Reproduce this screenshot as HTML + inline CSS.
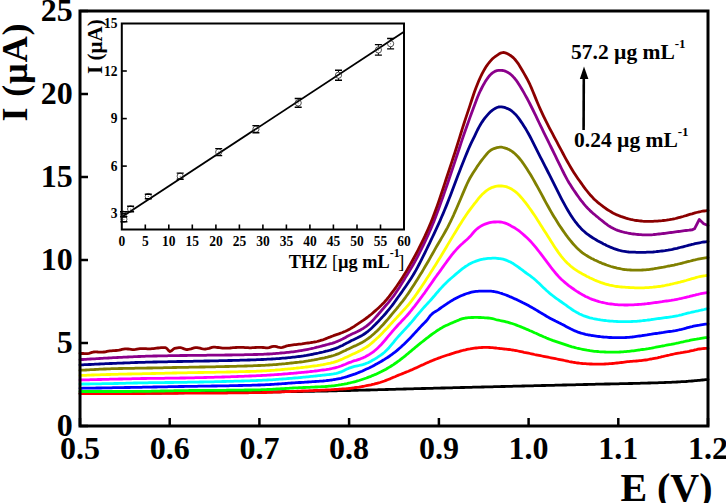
<!DOCTYPE html>
<html><head><meta charset="utf-8"><style>
html,body{margin:0;padding:0;background:#fff;}
svg{display:block;}
text{font-family:"Liberation Serif",serif;font-weight:bold;}
</style></head><body>
<svg width="726" height="503" viewBox="0 0 726 503" xmlns="http://www.w3.org/2000/svg">
<rect width="726" height="503" fill="#fff"/>
<g fill="none" stroke-width="2.8" stroke-linejoin="round" stroke-linecap="round">
<path d="M80.0 393.6 L81.5 393.6 L83.0 393.6 L84.5 393.6 L86.0 393.6 L87.5 393.5 L89.0 393.5 L90.5 393.5 L92.0 393.5 L93.5 393.5 L95.0 393.5 L96.5 393.5 L98.0 393.5 L99.5 393.5 L101.0 393.4 L102.5 393.4 L104.0 393.4 L105.5 393.4 L107.0 393.4 L108.5 393.4 L110.0 393.4 L111.5 393.4 L113.0 393.4 L114.5 393.3 L116.0 393.3 L117.5 393.3 L119.0 393.3 L120.5 393.3 L122.0 393.3 L123.5 393.3 L125.0 393.3 L126.5 393.3 L128.0 393.2 L129.5 393.2 L131.0 393.2 L132.5 393.2 L134.0 393.2 L135.5 393.2 L137.0 393.2 L138.5 393.2 L140.0 393.1 L141.5 393.1 L143.0 393.1 L144.5 393.1 L146.0 393.1 L147.5 393.1 L149.0 393.1 L150.5 393.1 L152.0 393.0 L153.5 393.0 L155.0 393.0 L156.5 393.0 L158.0 393.0 L159.5 393.0 L161.0 393.0 L162.5 392.9 L164.0 392.9 L165.5 392.9 L167.0 392.9 L168.5 392.9 L170.0 392.9 L171.5 392.9 L173.0 392.9 L174.5 392.8 L176.0 392.8 L177.5 392.8 L179.0 392.8 L180.5 392.8 L182.0 392.8 L183.5 392.8 L185.0 392.7 L186.5 392.7 L188.0 392.7 L189.5 392.7 L191.0 392.7 L192.5 392.7 L194.0 392.7 L195.5 392.6 L197.0 392.6 L198.5 392.6 L200.0 392.6 L201.5 392.6 L203.0 392.6 L204.5 392.6 L206.0 392.5 L207.5 392.5 L209.0 392.5 L210.5 392.5 L212.0 392.5 L213.5 392.5 L215.0 392.5 L216.5 392.4 L218.0 392.4 L219.5 392.4 L221.0 392.4 L222.5 392.4 L224.0 392.4 L225.5 392.4 L227.0 392.3 L228.5 392.3 L230.0 392.3 L231.5 392.3 L233.0 392.3 L234.5 392.3 L236.0 392.3 L237.5 392.2 L239.0 392.2 L240.5 392.2 L242.0 392.2 L243.5 392.2 L245.0 392.2 L246.5 392.2 L248.0 392.1 L249.5 392.1 L251.0 392.1 L252.5 392.1 L254.0 392.1 L255.5 392.1 L257.0 392.0 L258.5 392.0 L260.0 392.0 L261.5 392.0 L263.0 392.0 L264.5 392.0 L266.0 391.9 L267.5 391.9 L269.0 391.9 L270.5 391.9 L272.0 391.9 L273.5 391.9 L275.0 391.8 L276.5 391.8 L278.0 391.8 L279.5 391.8 L281.0 391.8 L282.5 391.7 L284.0 391.7 L285.5 391.7 L287.0 391.7 L288.5 391.7 L290.0 391.6 L291.5 391.6 L293.0 391.6 L294.5 391.6 L296.0 391.6 L297.5 391.5 L299.0 391.5 L300.5 391.5 L302.0 391.5 L303.5 391.4 L305.0 391.4 L306.5 391.4 L308.0 391.4 L309.5 391.3 L311.0 391.3 L312.5 391.3 L314.0 391.3 L315.5 391.2 L317.0 391.2 L318.5 391.2 L320.0 391.1 L321.5 391.1 L323.0 391.1 L324.5 391.0 L326.0 391.0 L327.5 391.0 L329.0 390.9 L330.5 390.9 L332.0 390.9 L333.5 390.8 L335.0 390.8 L336.5 390.8 L338.0 390.7 L339.5 390.7 L341.0 390.7 L342.5 390.6 L344.0 390.6 L345.5 390.6 L347.0 390.5 L348.5 390.5 L350.0 390.5 L351.5 390.4 L353.0 390.4 L354.5 390.4 L356.0 390.3 L357.5 390.3 L359.0 390.2 L360.5 390.2 L362.0 390.2 L363.5 390.1 L365.0 390.1 L366.5 390.0 L368.0 390.0 L369.5 390.0 L371.0 389.9 L372.5 389.9 L374.0 389.8 L375.5 389.8 L377.0 389.8 L378.5 389.7 L380.0 389.7 L381.5 389.6 L383.0 389.6 L384.5 389.6 L386.0 389.5 L387.5 389.5 L389.0 389.4 L390.5 389.4 L392.0 389.4 L393.5 389.3 L395.0 389.3 L396.5 389.2 L398.0 389.2 L399.5 389.1 L401.0 389.1 L402.5 389.1 L404.0 389.0 L405.5 389.0 L407.0 388.9 L408.5 388.9 L410.0 388.9 L411.5 388.8 L413.0 388.8 L414.5 388.7 L416.0 388.7 L417.5 388.7 L419.0 388.6 L420.5 388.6 L422.0 388.5 L423.5 388.5 L425.0 388.5 L426.5 388.4 L428.0 388.4 L429.5 388.4 L431.0 388.3 L432.5 388.3 L434.0 388.2 L435.5 388.2 L437.0 388.2 L438.5 388.1 L440.0 388.1 L441.5 388.0 L443.0 388.0 L444.5 388.0 L446.0 387.9 L447.5 387.9 L449.0 387.9 L450.5 387.8 L452.0 387.8 L453.5 387.7 L455.0 387.7 L456.5 387.7 L458.0 387.6 L459.5 387.6 L461.0 387.5 L462.5 387.5 L464.0 387.5 L465.5 387.4 L467.0 387.4 L468.5 387.4 L470.0 387.3 L471.5 387.3 L473.0 387.2 L474.5 387.2 L476.0 387.2 L477.5 387.1 L479.0 387.1 L480.5 387.1 L482.0 387.0 L483.5 387.0 L485.0 386.9 L486.5 386.9 L488.0 386.9 L489.5 386.8 L491.0 386.8 L492.5 386.8 L494.0 386.7 L495.5 386.7 L497.0 386.6 L498.5 386.6 L500.0 386.6 L501.5 386.5 L503.0 386.5 L504.5 386.5 L506.0 386.4 L507.5 386.4 L509.0 386.3 L510.5 386.3 L512.0 386.3 L513.5 386.2 L515.0 386.2 L516.5 386.2 L518.0 386.1 L519.5 386.1 L521.0 386.1 L522.5 386.0 L524.0 386.0 L525.5 385.9 L527.0 385.9 L528.5 385.9 L530.0 385.8 L531.5 385.8 L533.0 385.8 L534.5 385.7 L536.0 385.7 L537.5 385.7 L539.0 385.6 L540.5 385.6 L542.0 385.5 L543.5 385.5 L545.0 385.5 L546.5 385.4 L548.0 385.4 L549.5 385.4 L551.0 385.3 L552.5 385.3 L554.0 385.3 L555.5 385.2 L557.0 385.2 L558.5 385.2 L560.0 385.1 L561.5 385.1 L563.0 385.0 L564.5 385.0 L566.0 385.0 L567.5 384.9 L569.0 384.9 L570.5 384.9 L572.0 384.8 L573.5 384.8 L575.0 384.8 L576.5 384.7 L578.0 384.7 L579.5 384.6 L581.0 384.6 L582.5 384.6 L584.0 384.5 L585.5 384.5 L587.0 384.5 L588.5 384.4 L590.0 384.4 L591.5 384.4 L593.0 384.3 L594.5 384.3 L596.0 384.2 L597.5 384.2 L599.0 384.2 L600.5 384.1 L602.0 384.1 L603.5 384.1 L605.0 384.0 L606.5 384.0 L608.0 384.0 L609.5 384.0 L611.0 383.9 L612.5 383.9 L614.0 383.9 L615.5 383.8 L617.0 383.8 L618.5 383.8 L620.0 383.7 L621.5 383.7 L623.0 383.7 L624.5 383.6 L626.0 383.6 L627.5 383.6 L629.0 383.5 L630.5 383.5 L632.0 383.5 L633.5 383.4 L635.0 383.4 L636.5 383.3 L638.0 383.3 L639.5 383.3 L641.0 383.2 L642.5 383.2 L644.0 383.1 L645.5 383.1 L647.0 383.1 L648.5 383.0 L650.0 383.0 L651.5 382.9 L653.0 382.9 L654.5 382.8 L656.0 382.8 L657.5 382.8 L659.0 382.7 L660.5 382.7 L662.0 382.6 L663.5 382.6 L665.0 382.5 L666.5 382.4 L668.0 382.4 L669.5 382.3 L671.0 382.3 L672.5 382.2 L674.0 382.1 L675.5 382.1 L677.0 382.0 L678.5 381.9 L680.0 381.8 L681.5 381.7 L683.0 381.6 L684.5 381.6 L686.0 381.5 L687.5 381.3 L689.0 381.2 L690.5 381.1 L692.0 381.0 L693.5 380.9 L695.0 380.7 L696.5 380.6 L698.0 380.4 L699.5 380.3 L701.0 380.1 L702.5 380.0 L704.0 379.9 L705.5 379.7 L707.0 379.6 L708.0 379.5" stroke="#000000"/>
<path d="M80.0 393.7 L81.5 393.7 L83.0 393.7 L84.5 393.7 L86.0 393.7 L87.5 393.7 L89.0 393.7 L90.5 393.7 L92.0 393.7 L93.5 393.7 L95.0 393.7 L96.5 393.7 L98.0 393.7 L99.5 393.7 L101.0 393.7 L102.5 393.7 L104.0 393.7 L105.5 393.7 L107.0 393.7 L108.5 393.7 L110.0 393.7 L111.5 393.7 L113.0 393.7 L114.5 393.7 L116.0 393.7 L117.5 393.7 L119.0 393.7 L120.5 393.7 L122.0 393.7 L123.5 393.7 L125.0 393.7 L126.5 393.6 L128.0 393.6 L129.5 393.6 L131.0 393.6 L132.5 393.6 L134.0 393.6 L135.5 393.5 L137.0 393.5 L138.5 393.5 L140.0 393.5 L141.5 393.5 L143.0 393.5 L144.5 393.5 L146.0 393.4 L147.5 393.4 L149.0 393.4 L150.5 393.4 L152.0 393.4 L153.5 393.4 L155.0 393.4 L156.5 393.4 L158.0 393.4 L159.5 393.4 L161.0 393.3 L162.5 393.3 L164.0 393.3 L165.5 393.3 L167.0 393.3 L168.5 393.3 L170.0 393.3 L171.5 393.3 L173.0 393.3 L174.5 393.3 L176.0 393.3 L177.5 393.3 L179.0 393.2 L180.5 393.2 L182.0 393.2 L183.5 393.2 L185.0 393.2 L186.5 393.2 L188.0 393.2 L189.5 393.2 L191.0 393.2 L192.5 393.2 L194.0 393.2 L195.5 393.2 L197.0 393.2 L198.5 393.1 L200.0 393.1 L201.5 393.1 L203.0 393.1 L204.5 393.1 L206.0 393.1 L207.5 393.1 L209.0 393.1 L210.5 393.1 L212.0 393.1 L213.5 393.1 L215.0 393.0 L216.5 393.0 L218.0 393.0 L219.5 393.0 L221.0 393.0 L222.5 393.0 L224.0 393.0 L225.5 393.0 L227.0 393.0 L228.5 392.9 L230.0 392.9 L231.5 392.9 L233.0 392.9 L234.5 392.9 L236.0 392.9 L237.5 392.9 L239.0 392.8 L240.5 392.8 L242.0 392.8 L243.5 392.8 L245.0 392.8 L246.5 392.8 L248.0 392.8 L249.5 392.7 L251.0 392.7 L252.5 392.7 L254.0 392.7 L255.5 392.7 L257.0 392.6 L258.5 392.6 L260.0 392.6 L261.5 392.6 L263.0 392.5 L264.5 392.5 L266.0 392.5 L267.5 392.4 L269.0 392.4 L270.5 392.3 L272.0 392.3 L273.5 392.2 L275.0 392.1 L276.5 392.1 L278.0 392.0 L279.5 392.0 L281.0 391.9 L282.5 391.8 L284.0 391.8 L285.5 391.7 L287.0 391.6 L288.5 391.6 L290.0 391.5 L291.5 391.4 L293.0 391.4 L294.5 391.3 L296.0 391.3 L297.5 391.2 L299.0 391.1 L300.5 391.1 L302.0 391.0 L303.5 391.0 L305.0 390.9 L306.5 390.8 L308.0 390.8 L309.5 390.7 L311.0 390.6 L312.5 390.6 L314.0 390.5 L315.5 390.5 L317.0 390.4 L318.5 390.3 L320.0 390.3 L321.5 390.2 L323.0 390.1 L324.5 390.1 L326.0 390.0 L327.5 389.9 L329.0 389.8 L330.5 389.8 L332.0 389.7 L333.5 389.6 L335.0 389.5 L336.5 389.4 L338.0 389.3 L339.5 389.2 L341.0 389.1 L342.5 389.0 L344.0 388.9 L345.5 388.8 L347.0 388.6 L348.5 388.5 L350.0 388.3 L351.5 388.1 L353.0 388.0 L354.5 387.7 L356.0 387.5 L357.5 387.3 L359.0 387.1 L360.5 386.8 L362.0 386.5 L363.5 386.3 L365.0 386.0 L366.5 385.7 L368.0 385.4 L369.5 385.1 L371.0 384.8 L372.5 384.4 L374.0 384.1 L375.5 383.7 L377.0 383.3 L378.5 382.9 L380.0 382.5 L381.5 382.0 L383.0 381.5 L384.5 381.0 L386.0 380.4 L387.5 379.8 L389.0 379.2 L390.5 378.6 L392.0 377.9 L393.5 377.3 L395.0 376.7 L396.5 376.0 L398.0 375.4 L399.5 374.8 L401.0 374.2 L402.5 373.6 L404.0 373.0 L405.5 372.4 L407.0 371.8 L408.5 371.2 L410.0 370.5 L411.5 369.9 L413.0 369.2 L414.5 368.5 L416.0 367.9 L417.5 367.2 L419.0 366.5 L420.5 365.8 L422.0 365.1 L423.5 364.5 L425.0 363.8 L426.5 363.1 L428.0 362.4 L429.5 361.8 L431.0 361.1 L432.5 360.5 L434.0 359.9 L435.5 359.3 L437.0 358.7 L438.5 358.1 L440.0 357.6 L441.5 357.0 L443.0 356.5 L444.5 356.0 L446.0 355.5 L447.5 355.0 L449.0 354.6 L450.5 354.1 L452.0 353.6 L453.5 353.2 L455.0 352.7 L456.5 352.2 L458.0 351.8 L459.5 351.4 L461.0 350.9 L462.5 350.5 L464.0 350.1 L465.5 349.8 L467.0 349.4 L468.5 349.1 L470.0 348.9 L471.5 348.6 L473.0 348.4 L474.5 348.2 L476.0 348.0 L477.5 347.8 L479.0 347.7 L480.5 347.6 L482.0 347.5 L483.5 347.4 L485.0 347.4 L486.5 347.3 L488.0 347.4 L489.5 347.5 L491.0 347.6 L492.5 347.7 L494.0 347.9 L495.5 348.0 L497.0 348.2 L498.5 348.3 L500.0 348.5 L501.5 348.6 L503.0 348.8 L504.5 349.0 L506.0 349.1 L507.5 349.3 L509.0 349.5 L510.5 349.7 L512.0 350.0 L513.5 350.2 L515.0 350.5 L516.5 350.7 L518.0 351.0 L519.5 351.3 L521.0 351.6 L522.5 351.9 L524.0 352.3 L525.5 352.6 L527.0 352.9 L528.5 353.2 L530.0 353.5 L531.5 353.8 L533.0 354.1 L534.5 354.5 L536.0 354.8 L537.5 355.1 L539.0 355.4 L540.5 355.7 L542.0 356.0 L543.5 356.3 L545.0 356.6 L546.5 356.9 L548.0 357.2 L549.5 357.5 L551.0 357.8 L552.5 358.1 L554.0 358.4 L555.5 358.7 L557.0 359.0 L558.5 359.3 L560.0 359.6 L561.5 359.9 L563.0 360.2 L564.5 360.5 L566.0 360.8 L567.5 361.1 L569.0 361.5 L570.5 361.8 L572.0 362.0 L573.5 362.3 L575.0 362.5 L576.5 362.8 L578.0 363.0 L579.5 363.2 L581.0 363.3 L582.5 363.5 L584.0 363.6 L585.5 363.7 L587.0 363.8 L588.5 363.9 L590.0 364.0 L591.5 364.0 L593.0 364.1 L594.5 364.1 L596.0 364.2 L597.5 364.2 L599.0 364.2 L600.5 364.2 L602.0 364.1 L603.5 364.1 L605.0 364.0 L606.5 363.9 L608.0 363.9 L609.5 363.7 L611.0 363.6 L612.5 363.5 L614.0 363.4 L615.5 363.2 L617.0 363.0 L618.5 362.9 L620.0 362.7 L621.5 362.5 L623.0 362.3 L624.5 362.1 L626.0 361.9 L627.5 361.7 L629.0 361.6 L630.5 361.4 L632.0 361.3 L633.5 361.2 L635.0 361.1 L636.5 361.0 L638.0 360.9 L639.5 360.7 L641.0 360.6 L642.5 360.4 L644.0 360.2 L645.5 360.0 L647.0 359.8 L648.5 359.5 L650.0 359.2 L651.5 359.0 L653.0 358.7 L654.5 358.4 L656.0 358.1 L657.5 357.8 L659.0 357.4 L660.5 357.1 L662.0 356.7 L663.5 356.4 L665.0 356.0 L666.5 355.7 L668.0 355.3 L669.5 355.0 L671.0 354.6 L672.5 354.3 L674.0 354.0 L675.5 353.7 L677.0 353.4 L678.5 353.1 L680.0 352.9 L681.5 352.6 L683.0 352.4 L684.5 352.1 L686.0 351.8 L687.5 351.6 L689.0 351.3 L690.5 350.9 L692.0 350.6 L693.5 350.3 L695.0 349.9 L696.5 349.6 L698.0 349.2 L699.5 349.0 L701.0 348.8 L702.5 348.6 L704.0 348.5 L705.5 348.4 L707.0 348.4 L708.0 348.4" stroke="#ff0000"/>
<path d="M80.0 391.5 L81.5 391.5 L83.0 391.5 L84.5 391.5 L86.0 391.5 L87.5 391.5 L89.0 391.5 L90.5 391.5 L92.0 391.5 L93.5 391.5 L95.0 391.5 L96.5 391.5 L98.0 391.5 L99.5 391.5 L101.0 391.5 L102.5 391.5 L104.0 391.5 L105.5 391.5 L107.0 391.5 L108.5 391.5 L110.0 391.5 L111.5 391.5 L113.0 391.5 L114.5 391.5 L116.0 391.5 L117.5 391.5 L119.0 391.5 L120.5 391.5 L122.0 391.5 L123.5 391.5 L125.0 391.5 L126.5 391.5 L128.0 391.5 L129.5 391.5 L131.0 391.5 L132.5 391.4 L134.0 391.4 L135.5 391.4 L137.0 391.4 L138.5 391.4 L140.0 391.4 L141.5 391.4 L143.0 391.4 L144.5 391.3 L146.0 391.3 L147.5 391.3 L149.0 391.3 L150.5 391.3 L152.0 391.2 L153.5 391.2 L155.0 391.2 L156.5 391.2 L158.0 391.1 L159.5 391.1 L161.0 391.0 L162.5 391.0 L164.0 391.0 L165.5 390.9 L167.0 390.9 L168.5 390.8 L170.0 390.8 L171.5 390.8 L173.0 390.8 L174.5 390.7 L176.0 390.7 L177.5 390.7 L179.0 390.7 L180.5 390.7 L182.0 390.6 L183.5 390.6 L185.0 390.6 L186.5 390.6 L188.0 390.6 L189.5 390.5 L191.0 390.5 L192.5 390.5 L194.0 390.5 L195.5 390.5 L197.0 390.5 L198.5 390.5 L200.0 390.5 L201.5 390.4 L203.0 390.4 L204.5 390.4 L206.0 390.4 L207.5 390.4 L209.0 390.4 L210.5 390.4 L212.0 390.4 L213.5 390.4 L215.0 390.3 L216.5 390.3 L218.0 390.3 L219.5 390.3 L221.0 390.3 L222.5 390.3 L224.0 390.3 L225.5 390.3 L227.0 390.2 L228.5 390.2 L230.0 390.2 L231.5 390.2 L233.0 390.2 L234.5 390.2 L236.0 390.2 L237.5 390.1 L239.0 390.1 L240.5 390.1 L242.0 390.1 L243.5 390.1 L245.0 390.0 L246.5 390.0 L248.0 390.0 L249.5 390.0 L251.0 390.0 L252.5 389.9 L254.0 389.9 L255.5 389.9 L257.0 389.8 L258.5 389.8 L260.0 389.8 L261.5 389.7 L263.0 389.7 L264.5 389.6 L266.0 389.6 L267.5 389.5 L269.0 389.4 L270.5 389.4 L272.0 389.3 L273.5 389.2 L275.0 389.1 L276.5 389.0 L278.0 388.9 L279.5 388.8 L281.0 388.7 L282.5 388.6 L284.0 388.6 L285.5 388.5 L287.0 388.4 L288.5 388.3 L290.0 388.2 L291.5 388.1 L293.0 388.0 L294.5 387.9 L296.0 387.9 L297.5 387.8 L299.0 387.7 L300.5 387.7 L302.0 387.6 L303.5 387.5 L305.0 387.5 L306.5 387.4 L308.0 387.3 L309.5 387.3 L311.0 387.2 L312.5 387.2 L314.0 387.1 L315.5 387.0 L317.0 387.0 L318.5 386.9 L320.0 386.8 L321.5 386.7 L323.0 386.7 L324.5 386.6 L326.0 386.5 L327.5 386.4 L329.0 386.2 L330.5 386.1 L332.0 385.9 L333.5 385.8 L335.0 385.6 L336.5 385.4 L338.0 385.2 L339.5 384.9 L341.0 384.7 L342.5 384.4 L344.0 384.2 L345.5 383.9 L347.0 383.6 L348.5 383.2 L350.0 382.9 L351.5 382.5 L353.0 382.2 L354.5 381.8 L356.0 381.4 L357.5 380.9 L359.0 380.5 L360.5 380.0 L362.0 379.5 L363.5 379.0 L365.0 378.5 L366.5 378.0 L368.0 377.4 L369.5 376.8 L371.0 376.3 L372.5 375.6 L374.0 375.0 L375.5 374.4 L377.0 373.7 L378.5 373.0 L380.0 372.3 L381.5 371.6 L383.0 370.8 L384.5 370.0 L386.0 369.2 L387.5 368.3 L389.0 367.4 L390.5 366.5 L392.0 365.5 L393.5 364.6 L395.0 363.5 L396.5 362.5 L398.0 361.4 L399.5 360.3 L401.0 359.1 L402.5 358.0 L404.0 356.8 L405.5 355.6 L407.0 354.3 L408.5 353.1 L410.0 351.8 L411.5 350.6 L413.0 349.3 L414.5 348.1 L416.0 346.8 L417.5 345.6 L419.0 344.4 L420.5 343.2 L422.0 342.0 L423.5 340.8 L425.0 339.6 L426.5 338.4 L428.0 337.3 L429.5 336.1 L431.0 335.0 L432.5 333.9 L434.0 332.8 L435.5 331.8 L437.0 330.7 L438.5 329.8 L440.0 328.8 L441.5 328.0 L443.0 327.1 L444.5 326.3 L446.0 325.6 L447.5 324.9 L449.0 324.2 L450.5 323.5 L452.0 322.9 L453.5 322.2 L455.0 321.6 L456.5 321.0 L458.0 320.4 L459.5 319.7 L461.0 319.2 L462.5 318.7 L464.0 318.3 L465.5 318.0 L467.0 317.8 L468.5 317.7 L470.0 317.6 L471.5 317.5 L473.0 317.5 L474.5 317.4 L476.0 317.4 L477.5 317.4 L479.0 317.5 L480.5 317.5 L482.0 317.6 L483.5 317.7 L485.0 317.8 L486.5 317.9 L488.0 318.0 L489.5 318.2 L491.0 318.4 L492.5 318.6 L494.0 319.0 L495.5 319.5 L497.0 319.9 L498.5 320.2 L500.0 320.5 L501.5 320.8 L503.0 321.1 L504.5 321.4 L506.0 321.8 L507.5 322.2 L509.0 322.6 L510.5 323.1 L512.0 323.5 L513.5 324.0 L515.0 324.5 L516.5 325.1 L518.0 325.7 L519.5 326.3 L521.0 326.9 L522.5 327.5 L524.0 328.1 L525.5 328.7 L527.0 329.4 L528.5 330.0 L530.0 330.7 L531.5 331.3 L533.0 332.0 L534.5 332.7 L536.0 333.3 L537.5 334.0 L539.0 334.7 L540.5 335.4 L542.0 336.0 L543.5 336.7 L545.0 337.3 L546.5 338.0 L548.0 338.6 L549.5 339.2 L551.0 339.8 L552.5 340.4 L554.0 340.9 L555.5 341.4 L557.0 341.9 L558.5 342.4 L560.0 342.9 L561.5 343.4 L563.0 343.9 L564.5 344.4 L566.0 344.9 L567.5 345.4 L569.0 345.9 L570.5 346.3 L572.0 346.8 L573.5 347.2 L575.0 347.6 L576.5 348.0 L578.0 348.3 L579.5 348.7 L581.0 349.0 L582.5 349.3 L584.0 349.6 L585.5 349.9 L587.0 350.2 L588.5 350.4 L590.0 350.7 L591.5 350.9 L593.0 351.1 L594.5 351.3 L596.0 351.4 L597.5 351.5 L599.0 351.7 L600.5 351.8 L602.0 351.9 L603.5 351.9 L605.0 352.0 L606.5 352.1 L608.0 352.1 L609.5 352.1 L611.0 352.2 L612.5 352.2 L614.0 352.2 L615.5 352.2 L617.0 352.1 L618.5 352.1 L620.0 352.0 L621.5 351.9 L623.0 351.8 L624.5 351.7 L626.0 351.6 L627.5 351.4 L629.0 351.3 L630.5 351.1 L632.0 350.9 L633.5 350.8 L635.0 350.6 L636.5 350.4 L638.0 350.2 L639.5 350.0 L641.0 349.7 L642.5 349.5 L644.0 349.3 L645.5 349.1 L647.0 348.8 L648.5 348.6 L650.0 348.3 L651.5 348.1 L653.0 347.8 L654.5 347.5 L656.0 347.2 L657.5 346.9 L659.0 346.6 L660.5 346.3 L662.0 346.0 L663.5 345.8 L665.0 345.5 L666.5 345.2 L668.0 344.9 L669.5 344.6 L671.0 344.4 L672.5 344.1 L674.0 343.8 L675.5 343.5 L677.0 343.2 L678.5 342.9 L680.0 342.5 L681.5 342.2 L683.0 341.9 L684.5 341.5 L686.0 341.2 L687.5 340.9 L689.0 340.6 L690.5 340.2 L692.0 339.9 L693.5 339.6 L695.0 339.3 L696.5 339.1 L698.0 338.8 L699.5 338.6 L701.0 338.3 L702.5 338.1 L704.0 337.9 L705.5 337.7 L707.0 337.6 L708.0 337.5" stroke="#00ff00"/>
<path d="M80.0 388.3 L81.5 388.3 L83.0 388.2 L84.5 388.2 L86.0 388.2 L87.5 388.2 L89.0 388.2 L90.5 388.1 L92.0 388.1 L93.5 388.1 L95.0 388.1 L96.5 388.0 L98.0 388.0 L99.5 388.0 L101.0 388.0 L102.5 387.9 L104.0 387.9 L105.5 387.9 L107.0 387.8 L108.5 387.8 L110.0 387.8 L111.5 387.8 L113.0 387.7 L114.5 387.7 L116.0 387.7 L117.5 387.7 L119.0 387.6 L120.5 387.6 L122.0 387.6 L123.5 387.6 L125.0 387.5 L126.5 387.5 L128.0 387.5 L129.5 387.5 L131.0 387.4 L132.5 387.4 L134.0 387.4 L135.5 387.4 L137.0 387.3 L138.5 387.3 L140.0 387.3 L141.5 387.3 L143.0 387.2 L144.5 387.2 L146.0 387.2 L147.5 387.1 L149.0 387.1 L150.5 387.1 L152.0 387.1 L153.5 387.0 L155.0 387.0 L156.5 387.0 L158.0 386.9 L159.5 386.9 L161.0 386.9 L162.5 386.9 L164.0 386.8 L165.5 386.8 L167.0 386.8 L168.5 386.7 L170.0 386.7 L171.5 386.7 L173.0 386.6 L174.5 386.6 L176.0 386.6 L177.5 386.6 L179.0 386.5 L180.5 386.5 L182.0 386.5 L183.5 386.5 L185.0 386.4 L186.5 386.4 L188.0 386.4 L189.5 386.4 L191.0 386.3 L192.5 386.3 L194.0 386.3 L195.5 386.3 L197.0 386.3 L198.5 386.2 L200.0 386.2 L201.5 386.2 L203.0 386.2 L204.5 386.1 L206.0 386.1 L207.5 386.1 L209.0 386.1 L210.5 386.1 L212.0 386.0 L213.5 386.0 L215.0 386.0 L216.5 386.0 L218.0 385.9 L219.5 385.9 L221.0 385.9 L222.5 385.9 L224.0 385.8 L225.5 385.8 L227.0 385.8 L228.5 385.8 L230.0 385.7 L231.5 385.7 L233.0 385.7 L234.5 385.6 L236.0 385.6 L237.5 385.6 L239.0 385.5 L240.5 385.5 L242.0 385.5 L243.5 385.4 L245.0 385.4 L246.5 385.4 L248.0 385.3 L249.5 385.3 L251.0 385.3 L252.5 385.2 L254.0 385.2 L255.5 385.1 L257.0 385.1 L258.5 385.0 L260.0 385.0 L261.5 384.9 L263.0 384.9 L264.5 384.8 L266.0 384.7 L267.5 384.6 L269.0 384.6 L270.5 384.5 L272.0 384.4 L273.5 384.3 L275.0 384.2 L276.5 384.1 L278.0 384.0 L279.5 383.9 L281.0 383.8 L282.5 383.7 L284.0 383.6 L285.5 383.5 L287.0 383.4 L288.5 383.2 L290.0 383.1 L291.5 383.0 L293.0 382.9 L294.5 382.8 L296.0 382.7 L297.5 382.6 L299.0 382.5 L300.5 382.5 L302.0 382.4 L303.5 382.3 L305.0 382.2 L306.5 382.1 L308.0 382.0 L309.5 381.9 L311.0 381.8 L312.5 381.7 L314.0 381.6 L315.5 381.5 L317.0 381.4 L318.5 381.3 L320.0 381.2 L321.5 381.1 L323.0 381.0 L324.5 380.8 L326.0 380.7 L327.5 380.5 L329.0 380.4 L330.5 380.2 L332.0 380.0 L333.5 379.7 L335.0 379.5 L336.5 379.2 L338.0 378.9 L339.5 378.6 L341.0 378.3 L342.5 377.9 L344.0 377.5 L345.5 377.1 L347.0 376.7 L348.5 376.2 L350.0 375.7 L351.5 375.2 L353.0 374.7 L354.5 374.2 L356.0 373.6 L357.5 373.0 L359.0 372.4 L360.5 371.8 L362.0 371.2 L363.5 370.5 L365.0 369.8 L366.5 369.1 L368.0 368.4 L369.5 367.7 L371.0 366.9 L372.5 366.2 L374.0 365.4 L375.5 364.6 L377.0 363.8 L378.5 362.9 L380.0 362.1 L381.5 361.2 L383.0 360.3 L384.5 359.4 L386.0 358.4 L387.5 357.5 L389.0 356.5 L390.5 355.4 L392.0 354.3 L393.5 353.2 L395.0 352.1 L396.5 350.9 L398.0 349.6 L399.5 348.3 L401.0 347.0 L402.5 345.6 L404.0 344.2 L405.5 342.7 L407.0 341.2 L408.5 339.7 L410.0 338.2 L411.5 336.6 L413.0 335.0 L414.5 333.4 L416.0 331.8 L417.5 330.1 L419.0 328.5 L420.5 326.9 L422.0 325.3 L423.5 323.7 L425.0 322.3 L426.5 320.7 L428.0 318.8 L429.5 316.7 L431.0 314.9 L432.5 313.5 L434.0 312.4 L435.5 311.5 L437.0 310.6 L438.5 309.6 L440.0 308.5 L441.5 307.4 L443.0 306.4 L444.5 305.3 L446.0 304.3 L447.5 303.3 L449.0 302.4 L450.5 301.4 L452.0 300.5 L453.5 299.6 L455.0 298.8 L456.5 298.0 L458.0 297.2 L459.5 296.5 L461.0 295.8 L462.5 295.2 L464.0 294.6 L465.5 294.0 L467.0 293.5 L468.5 293.1 L470.0 292.6 L471.5 292.2 L473.0 291.9 L474.5 291.6 L476.0 291.4 L477.5 291.3 L479.0 291.2 L480.5 291.2 L482.0 291.1 L483.5 291.1 L485.0 291.1 L486.5 291.1 L488.0 291.1 L489.5 291.2 L491.0 291.2 L492.5 291.3 L494.0 291.5 L495.5 291.8 L497.0 292.1 L498.5 292.5 L500.0 293.0 L501.5 293.4 L503.0 294.0 L504.5 294.5 L506.0 295.0 L507.5 295.6 L509.0 296.2 L510.5 296.9 L512.0 297.5 L513.5 298.2 L515.0 298.9 L516.5 299.5 L518.0 300.3 L519.5 301.0 L521.0 301.7 L522.5 302.5 L524.0 303.2 L525.5 304.0 L527.0 304.8 L528.5 305.6 L530.0 306.4 L531.5 307.2 L533.0 308.1 L534.5 309.0 L536.0 309.9 L537.5 310.8 L539.0 311.7 L540.5 312.6 L542.0 313.5 L543.5 314.4 L545.0 315.3 L546.5 316.2 L548.0 317.1 L549.5 317.9 L551.0 318.7 L552.5 319.5 L554.0 320.3 L555.5 321.1 L557.0 321.8 L558.5 322.6 L560.0 323.3 L561.5 324.1 L563.0 324.8 L564.5 325.6 L566.0 326.4 L567.5 327.2 L569.0 328.0 L570.5 328.8 L572.0 329.5 L573.5 330.2 L575.0 330.9 L576.5 331.5 L578.0 332.1 L579.5 332.6 L581.0 333.1 L582.5 333.5 L584.0 333.9 L585.5 334.3 L587.0 334.6 L588.5 335.0 L590.0 335.2 L591.5 335.5 L593.0 335.7 L594.5 335.9 L596.0 336.1 L597.5 336.3 L599.0 336.5 L600.5 336.7 L602.0 336.8 L603.5 337.0 L605.0 337.1 L606.5 337.2 L608.0 337.4 L609.5 337.5 L611.0 337.5 L612.5 337.6 L614.0 337.7 L615.5 337.7 L617.0 337.7 L618.5 337.7 L620.0 337.7 L621.5 337.7 L623.0 337.6 L624.5 337.6 L626.0 337.5 L627.5 337.4 L629.0 337.3 L630.5 337.1 L632.0 337.0 L633.5 336.8 L635.0 336.6 L636.5 336.4 L638.0 336.2 L639.5 336.0 L641.0 335.8 L642.5 335.5 L644.0 335.3 L645.5 335.1 L647.0 334.9 L648.5 334.6 L650.0 334.4 L651.5 334.2 L653.0 333.9 L654.5 333.7 L656.0 333.5 L657.5 333.3 L659.0 333.0 L660.5 332.8 L662.0 332.6 L663.5 332.4 L665.0 332.1 L666.5 331.9 L668.0 331.7 L669.5 331.5 L671.0 331.3 L672.5 331.1 L674.0 330.8 L675.5 330.6 L677.0 330.3 L678.5 330.0 L680.0 329.7 L681.5 329.4 L683.0 329.0 L684.5 328.6 L686.0 328.2 L687.5 327.7 L689.0 327.3 L690.5 326.9 L692.0 326.6 L693.5 326.2 L695.0 325.9 L696.5 325.6 L698.0 325.3 L699.5 325.1 L701.0 324.8 L702.5 324.6 L704.0 324.4 L705.5 324.2 L707.0 324.1 L708.0 324.0" stroke="#0000ff"/>
<path d="M80.0 384.1 L81.5 384.1 L83.0 384.0 L84.5 384.0 L86.0 384.0 L87.5 384.0 L89.0 384.0 L90.5 383.9 L92.0 383.9 L93.5 383.9 L95.0 383.9 L96.5 383.8 L98.0 383.8 L99.5 383.8 L101.0 383.8 L102.5 383.7 L104.0 383.7 L105.5 383.7 L107.0 383.7 L108.5 383.6 L110.0 383.6 L111.5 383.6 L113.0 383.6 L114.5 383.5 L116.0 383.5 L117.5 383.5 L119.0 383.4 L120.5 383.4 L122.0 383.4 L123.5 383.3 L125.0 383.3 L126.5 383.2 L128.0 383.2 L129.5 383.2 L131.0 383.1 L132.5 383.1 L134.0 383.0 L135.5 383.0 L137.0 383.0 L138.5 382.9 L140.0 382.9 L141.5 382.9 L143.0 382.8 L144.5 382.8 L146.0 382.8 L147.5 382.8 L149.0 382.7 L150.5 382.7 L152.0 382.7 L153.5 382.7 L155.0 382.6 L156.5 382.6 L158.0 382.6 L159.5 382.6 L161.0 382.6 L162.5 382.6 L164.0 382.6 L165.5 382.5 L167.0 382.5 L168.5 382.5 L170.0 382.5 L171.5 382.5 L173.0 382.5 L174.5 382.4 L176.0 382.4 L177.5 382.4 L179.0 382.4 L180.5 382.4 L182.0 382.3 L183.5 382.3 L185.0 382.3 L186.5 382.3 L188.0 382.2 L189.5 382.2 L191.0 382.2 L192.5 382.2 L194.0 382.1 L195.5 382.1 L197.0 382.1 L198.5 382.1 L200.0 382.0 L201.5 382.0 L203.0 382.0 L204.5 381.9 L206.0 381.9 L207.5 381.9 L209.0 381.9 L210.5 381.8 L212.0 381.8 L213.5 381.8 L215.0 381.7 L216.5 381.7 L218.0 381.7 L219.5 381.6 L221.0 381.6 L222.5 381.5 L224.0 381.5 L225.5 381.5 L227.0 381.4 L228.5 381.4 L230.0 381.4 L231.5 381.3 L233.0 381.3 L234.5 381.2 L236.0 381.2 L237.5 381.1 L239.0 381.1 L240.5 381.1 L242.0 381.0 L243.5 381.0 L245.0 380.9 L246.5 380.9 L248.0 380.8 L249.5 380.8 L251.0 380.7 L252.5 380.7 L254.0 380.6 L255.5 380.6 L257.0 380.5 L258.5 380.4 L260.0 380.4 L261.5 380.3 L263.0 380.2 L264.5 380.2 L266.0 380.1 L267.5 380.0 L269.0 379.9 L270.5 379.8 L272.0 379.8 L273.5 379.7 L275.0 379.6 L276.5 379.4 L278.0 379.3 L279.5 379.2 L281.0 379.1 L282.5 379.0 L284.0 378.9 L285.5 378.8 L287.0 378.6 L288.5 378.5 L290.0 378.4 L291.5 378.3 L293.0 378.1 L294.5 378.0 L296.0 377.9 L297.5 377.8 L299.0 377.6 L300.5 377.5 L302.0 377.3 L303.5 377.2 L305.0 377.1 L306.5 376.9 L308.0 376.8 L309.5 376.6 L311.0 376.4 L312.5 376.3 L314.0 376.1 L315.5 376.0 L317.0 375.8 L318.5 375.6 L320.0 375.5 L321.5 375.3 L323.0 375.1 L324.5 375.0 L326.0 374.8 L327.5 374.6 L329.0 374.5 L330.5 374.3 L332.0 374.1 L333.5 373.9 L335.0 373.6 L336.5 373.3 L338.0 372.9 L339.5 372.4 L341.0 371.9 L342.5 371.2 L344.0 370.6 L345.5 369.8 L347.0 369.1 L348.5 368.4 L350.0 367.8 L351.5 367.3 L353.0 366.8 L354.5 366.4 L356.0 366.1 L357.5 365.8 L359.0 365.5 L360.5 365.2 L362.0 364.8 L363.5 364.4 L365.0 363.9 L366.5 363.3 L368.0 362.7 L369.5 361.9 L371.0 361.2 L372.5 360.3 L374.0 359.5 L375.5 358.6 L377.0 357.7 L378.5 356.7 L380.0 355.7 L381.5 354.6 L383.0 353.5 L384.5 352.2 L386.0 350.8 L387.5 349.3 L389.0 347.7 L390.5 345.9 L392.0 344.1 L393.5 342.3 L395.0 340.4 L396.5 338.6 L398.0 336.9 L399.5 335.2 L401.0 333.6 L402.5 332.0 L404.0 330.4 L405.5 328.8 L407.0 327.1 L408.5 325.5 L410.0 323.8 L411.5 322.1 L413.0 320.3 L414.5 318.5 L416.0 316.7 L417.5 314.9 L419.0 313.1 L420.5 311.4 L422.0 309.6 L423.5 307.9 L425.0 306.2 L426.5 304.6 L428.0 303.0 L429.5 301.4 L431.0 299.7 L432.5 298.0 L434.0 296.3 L435.5 294.5 L437.0 292.7 L438.5 291.0 L440.0 289.2 L441.5 287.6 L443.0 286.0 L444.5 284.4 L446.0 282.9 L447.5 281.5 L449.0 280.1 L450.5 278.8 L452.0 277.5 L453.5 276.2 L455.0 274.9 L456.5 273.6 L458.0 272.4 L459.5 271.1 L461.0 269.9 L462.5 268.7 L464.0 267.6 L465.5 266.5 L467.0 265.6 L468.5 264.6 L470.0 263.8 L471.5 263.0 L473.0 262.3 L474.5 261.7 L476.0 261.1 L477.5 260.6 L479.0 260.1 L480.5 259.7 L482.0 259.3 L483.5 259.0 L485.0 258.8 L486.5 258.6 L488.0 258.4 L489.5 258.4 L491.0 258.3 L492.5 258.2 L494.0 258.2 L495.5 258.2 L497.0 258.3 L498.5 258.5 L500.0 258.6 L501.5 258.9 L503.0 259.2 L504.5 259.6 L506.0 260.1 L507.5 260.7 L509.0 261.4 L510.5 262.1 L512.0 262.9 L513.5 263.8 L515.0 264.8 L516.5 265.8 L518.0 266.9 L519.5 268.0 L521.0 269.1 L522.5 270.2 L524.0 271.4 L525.5 272.5 L527.0 273.6 L528.5 274.7 L530.0 275.7 L531.5 276.8 L533.0 278.0 L534.5 279.2 L536.0 280.5 L537.5 281.9 L539.0 283.3 L540.5 284.8 L542.0 286.3 L543.5 287.7 L545.0 289.1 L546.5 290.5 L548.0 291.8 L549.5 293.1 L551.0 294.3 L552.5 295.5 L554.0 296.7 L555.5 297.8 L557.0 298.9 L558.5 299.9 L560.0 301.0 L561.5 302.0 L563.0 303.1 L564.5 304.2 L566.0 305.2 L567.5 306.3 L569.0 307.4 L570.5 308.4 L572.0 309.5 L573.5 310.5 L575.0 311.4 L576.5 312.3 L578.0 313.1 L579.5 313.9 L581.0 314.6 L582.5 315.3 L584.0 315.9 L585.5 316.4 L587.0 316.9 L588.5 317.4 L590.0 317.8 L591.5 318.1 L593.0 318.5 L594.5 318.8 L596.0 319.1 L597.5 319.4 L599.0 319.6 L600.5 319.9 L602.0 320.1 L603.5 320.3 L605.0 320.5 L606.5 320.7 L608.0 320.8 L609.5 321.0 L611.0 321.1 L612.5 321.2 L614.0 321.3 L615.5 321.4 L617.0 321.5 L618.5 321.6 L620.0 321.6 L621.5 321.6 L623.0 321.7 L624.5 321.7 L626.0 321.7 L627.5 321.7 L629.0 321.6 L630.5 321.6 L632.0 321.5 L633.5 321.4 L635.0 321.4 L636.5 321.3 L638.0 321.1 L639.5 321.0 L641.0 320.8 L642.5 320.7 L644.0 320.5 L645.5 320.3 L647.0 320.2 L648.5 320.0 L650.0 319.8 L651.5 319.5 L653.0 319.3 L654.5 319.1 L656.0 318.9 L657.5 318.7 L659.0 318.5 L660.5 318.3 L662.0 318.1 L663.5 317.9 L665.0 317.7 L666.5 317.5 L668.0 317.4 L669.5 317.1 L671.0 316.9 L672.5 316.7 L674.0 316.4 L675.5 316.1 L677.0 315.8 L678.5 315.5 L680.0 315.1 L681.5 314.8 L683.0 314.4 L684.5 314.0 L686.0 313.6 L687.5 313.2 L689.0 312.8 L690.5 312.5 L692.0 312.1 L693.5 311.8 L695.0 311.5 L696.5 311.2 L698.0 310.9 L699.5 310.5 L701.0 310.2 L702.5 309.8 L704.0 309.5 L705.5 309.1 L707.0 308.8 L708.0 308.6" stroke="#00ffff"/>
<path d="M80.0 379.9 L81.5 379.9 L83.0 379.9 L84.5 379.9 L86.0 379.8 L87.5 379.8 L89.0 379.8 L90.5 379.7 L92.0 379.7 L93.5 379.6 L95.0 379.6 L96.5 379.6 L98.0 379.5 L99.5 379.5 L101.0 379.5 L102.5 379.4 L104.0 379.4 L105.5 379.3 L107.0 379.3 L108.5 379.3 L110.0 379.2 L111.5 379.2 L113.0 379.2 L114.5 379.1 L116.0 379.1 L117.5 379.1 L119.0 379.0 L120.5 379.0 L122.0 379.0 L123.5 378.9 L125.0 378.9 L126.5 378.9 L128.0 378.8 L129.5 378.8 L131.0 378.8 L132.5 378.7 L134.0 378.7 L135.5 378.7 L137.0 378.6 L138.5 378.6 L140.0 378.6 L141.5 378.5 L143.0 378.5 L144.5 378.5 L146.0 378.5 L147.5 378.4 L149.0 378.4 L150.5 378.4 L152.0 378.4 L153.5 378.4 L155.0 378.4 L156.5 378.3 L158.0 378.3 L159.5 378.3 L161.0 378.3 L162.5 378.3 L164.0 378.3 L165.5 378.2 L167.0 378.2 L168.5 378.2 L170.0 378.2 L171.5 378.2 L173.0 378.2 L174.5 378.1 L176.0 378.1 L177.5 378.1 L179.0 378.1 L180.5 378.0 L182.0 378.0 L183.5 378.0 L185.0 378.0 L186.5 377.9 L188.0 377.9 L189.5 377.9 L191.0 377.8 L192.5 377.8 L194.0 377.8 L195.5 377.7 L197.0 377.7 L198.5 377.7 L200.0 377.6 L201.5 377.6 L203.0 377.6 L204.5 377.5 L206.0 377.5 L207.5 377.4 L209.0 377.4 L210.5 377.4 L212.0 377.3 L213.5 377.3 L215.0 377.2 L216.5 377.2 L218.0 377.2 L219.5 377.1 L221.0 377.1 L222.5 377.0 L224.0 377.0 L225.5 376.9 L227.0 376.9 L228.5 376.8 L230.0 376.8 L231.5 376.7 L233.0 376.7 L234.5 376.6 L236.0 376.6 L237.5 376.5 L239.0 376.4 L240.5 376.4 L242.0 376.3 L243.5 376.3 L245.0 376.2 L246.5 376.2 L248.0 376.1 L249.5 376.0 L251.0 376.0 L252.5 375.9 L254.0 375.9 L255.5 375.8 L257.0 375.7 L258.5 375.7 L260.0 375.6 L261.5 375.5 L263.0 375.4 L264.5 375.4 L266.0 375.3 L267.5 375.2 L269.0 375.1 L270.5 375.0 L272.0 374.9 L273.5 374.8 L275.0 374.7 L276.5 374.6 L278.0 374.5 L279.5 374.4 L281.0 374.3 L282.5 374.1 L284.0 374.0 L285.5 373.9 L287.0 373.8 L288.5 373.6 L290.0 373.5 L291.5 373.4 L293.0 373.3 L294.5 373.1 L296.0 373.0 L297.5 372.8 L299.0 372.7 L300.5 372.6 L302.0 372.4 L303.5 372.3 L305.0 372.1 L306.5 372.0 L308.0 371.8 L309.5 371.7 L311.0 371.5 L312.5 371.3 L314.0 371.2 L315.5 371.0 L317.0 370.8 L318.5 370.6 L320.0 370.4 L321.5 370.2 L323.0 370.0 L324.5 369.8 L326.0 369.6 L327.5 369.3 L329.0 369.1 L330.5 368.8 L332.0 368.5 L333.5 368.2 L335.0 367.8 L336.5 367.4 L338.0 367.0 L339.5 366.5 L341.0 366.0 L342.5 365.4 L344.0 364.8 L345.5 364.2 L347.0 363.5 L348.5 362.9 L350.0 362.3 L351.5 361.8 L353.0 361.2 L354.5 360.7 L356.0 360.3 L357.5 359.8 L359.0 359.3 L360.5 358.8 L362.0 358.2 L363.5 357.6 L365.0 356.9 L366.5 356.1 L368.0 355.3 L369.5 354.4 L371.0 353.4 L372.5 352.4 L374.0 351.3 L375.5 350.0 L377.0 348.7 L378.5 347.3 L380.0 345.8 L381.5 344.2 L383.0 342.5 L384.5 340.8 L386.0 339.0 L387.5 337.2 L389.0 335.4 L390.5 333.6 L392.0 331.8 L393.5 330.1 L395.0 328.4 L396.5 326.7 L398.0 325.0 L399.5 323.4 L401.0 321.9 L402.5 320.3 L404.0 318.7 L405.5 317.1 L407.0 315.5 L408.5 313.8 L410.0 312.0 L411.5 310.1 L413.0 308.2 L414.5 306.3 L416.0 304.3 L417.5 302.4 L419.0 300.4 L420.5 298.4 L422.0 296.4 L423.5 294.3 L425.0 292.3 L426.5 290.1 L428.0 288.0 L429.5 285.9 L431.0 283.7 L432.5 281.6 L434.0 279.4 L435.5 277.3 L437.0 275.2 L438.5 273.2 L440.0 271.1 L441.5 269.0 L443.0 266.9 L444.5 264.8 L446.0 262.7 L447.5 260.6 L449.0 258.6 L450.5 256.6 L452.0 254.7 L453.5 252.8 L455.0 251.1 L456.5 249.4 L458.0 247.8 L459.5 246.3 L461.0 244.8 L462.5 243.5 L464.0 242.1 L465.5 240.8 L467.0 239.5 L468.5 238.1 L470.0 236.6 L471.5 234.8 L473.0 233.0 L474.5 231.3 L476.0 229.8 L477.5 228.5 L479.0 227.4 L480.5 226.4 L482.0 225.5 L483.5 224.7 L485.0 224.1 L486.5 223.6 L488.0 223.1 L489.5 222.7 L491.0 222.3 L492.5 222.1 L494.0 222.0 L495.5 222.0 L497.0 221.9 L498.5 221.9 L500.0 222.0 L501.5 222.2 L503.0 222.5 L504.5 222.9 L506.0 223.4 L507.5 224.0 L509.0 224.8 L510.5 225.6 L512.0 226.5 L513.5 227.3 L515.0 228.1 L516.5 229.1 L518.0 230.1 L519.5 231.2 L521.0 232.5 L522.5 233.8 L524.0 235.1 L525.5 236.4 L527.0 237.8 L528.5 239.2 L530.0 240.7 L531.5 242.4 L533.0 244.1 L534.5 245.9 L536.0 247.7 L537.5 249.6 L539.0 251.5 L540.5 253.4 L542.0 255.4 L543.5 257.4 L545.0 259.4 L546.5 261.4 L548.0 263.4 L549.5 265.4 L551.0 267.4 L552.5 269.3 L554.0 271.2 L555.5 273.0 L557.0 274.7 L558.5 276.4 L560.0 277.9 L561.5 279.4 L563.0 280.8 L564.5 282.1 L566.0 283.4 L567.5 284.6 L569.0 285.8 L570.5 286.9 L572.0 288.0 L573.5 289.0 L575.0 290.1 L576.5 291.1 L578.0 292.0 L579.5 293.0 L581.0 293.9 L582.5 294.8 L584.0 295.6 L585.5 296.4 L587.0 297.1 L588.5 297.8 L590.0 298.5 L591.5 299.1 L593.0 299.7 L594.5 300.2 L596.0 300.7 L597.5 301.1 L599.0 301.6 L600.5 302.0 L602.0 302.3 L603.5 302.7 L605.0 303.0 L606.5 303.3 L608.0 303.6 L609.5 303.8 L611.0 304.0 L612.5 304.2 L614.0 304.4 L615.5 304.6 L617.0 304.7 L618.5 304.8 L620.0 304.9 L621.5 304.9 L623.0 304.9 L624.5 305.0 L626.0 305.0 L627.5 305.0 L629.0 304.9 L630.5 304.9 L632.0 304.8 L633.5 304.8 L635.0 304.7 L636.5 304.6 L638.0 304.5 L639.5 304.4 L641.0 304.3 L642.5 304.1 L644.0 304.0 L645.5 303.8 L647.0 303.7 L648.5 303.5 L650.0 303.3 L651.5 303.1 L653.0 302.9 L654.5 302.7 L656.0 302.5 L657.5 302.3 L659.0 302.1 L660.5 301.9 L662.0 301.7 L663.5 301.4 L665.0 301.2 L666.5 301.0 L668.0 300.8 L669.5 300.6 L671.0 300.4 L672.5 300.1 L674.0 299.9 L675.5 299.6 L677.0 299.3 L678.5 299.0 L680.0 298.7 L681.5 298.4 L683.0 298.0 L684.5 297.7 L686.0 297.3 L687.5 296.9 L689.0 296.6 L690.5 296.2 L692.0 295.8 L693.5 295.4 L695.0 295.1 L696.5 294.7 L698.0 294.4 L699.5 294.0 L701.0 293.7 L702.5 293.4 L704.0 293.1 L705.5 292.9 L707.0 292.7 L708.0 292.6" stroke="#ff00ff"/>
<path d="M80.0 375.4 L81.5 375.4 L83.0 375.4 L84.5 375.3 L86.0 375.3 L87.5 375.2 L89.0 375.2 L90.5 375.1 L92.0 375.0 L93.5 375.0 L95.0 374.9 L96.5 374.9 L98.0 374.8 L99.5 374.8 L101.0 374.7 L102.5 374.7 L104.0 374.6 L105.5 374.6 L107.0 374.5 L108.5 374.5 L110.0 374.5 L111.5 374.4 L113.0 374.4 L114.5 374.3 L116.0 374.3 L117.5 374.3 L119.0 374.2 L120.5 374.2 L122.0 374.2 L123.5 374.1 L125.0 374.1 L126.5 374.1 L128.0 374.0 L129.5 374.0 L131.0 374.0 L132.5 373.9 L134.0 373.9 L135.5 373.9 L137.0 373.9 L138.5 373.8 L140.0 373.8 L141.5 373.8 L143.0 373.7 L144.5 373.7 L146.0 373.7 L147.5 373.6 L149.0 373.6 L150.5 373.6 L152.0 373.5 L153.5 373.5 L155.0 373.5 L156.5 373.4 L158.0 373.4 L159.5 373.4 L161.0 373.3 L162.5 373.3 L164.0 373.3 L165.5 373.2 L167.0 373.2 L168.5 373.1 L170.0 373.1 L171.5 373.1 L173.0 373.0 L174.5 373.0 L176.0 373.0 L177.5 372.9 L179.0 372.9 L180.5 372.9 L182.0 372.8 L183.5 372.8 L185.0 372.8 L186.5 372.8 L188.0 372.7 L189.5 372.7 L191.0 372.7 L192.5 372.6 L194.0 372.6 L195.5 372.6 L197.0 372.6 L198.5 372.5 L200.0 372.5 L201.5 372.5 L203.0 372.5 L204.5 372.4 L206.0 372.4 L207.5 372.4 L209.0 372.4 L210.5 372.3 L212.0 372.3 L213.5 372.3 L215.0 372.3 L216.5 372.2 L218.0 372.2 L219.5 372.2 L221.0 372.1 L222.5 372.1 L224.0 372.1 L225.5 372.1 L227.0 372.0 L228.5 372.0 L230.0 372.0 L231.5 371.9 L233.0 371.9 L234.5 371.9 L236.0 371.8 L237.5 371.8 L239.0 371.7 L240.5 371.7 L242.0 371.7 L243.5 371.6 L245.0 371.6 L246.5 371.5 L248.0 371.5 L249.5 371.5 L251.0 371.4 L252.5 371.4 L254.0 371.3 L255.5 371.3 L257.0 371.2 L258.5 371.1 L260.0 371.1 L261.5 371.0 L263.0 370.9 L264.5 370.9 L266.0 370.8 L267.5 370.7 L269.0 370.6 L270.5 370.5 L272.0 370.4 L273.5 370.3 L275.0 370.2 L276.5 370.0 L278.0 369.9 L279.5 369.8 L281.0 369.6 L282.5 369.5 L284.0 369.4 L285.5 369.2 L287.0 369.1 L288.5 368.9 L290.0 368.8 L291.5 368.6 L293.0 368.5 L294.5 368.3 L296.0 368.2 L297.5 368.0 L299.0 367.8 L300.5 367.7 L302.0 367.5 L303.5 367.3 L305.0 367.2 L306.5 367.0 L308.0 366.8 L309.5 366.6 L311.0 366.4 L312.5 366.2 L314.0 366.0 L315.5 365.8 L317.0 365.6 L318.5 365.3 L320.0 365.1 L321.5 364.8 L323.0 364.6 L324.5 364.3 L326.0 364.0 L327.5 363.7 L329.0 363.4 L330.5 363.1 L332.0 362.7 L333.5 362.3 L335.0 361.8 L336.5 361.3 L338.0 360.8 L339.5 360.2 L341.0 359.6 L342.5 359.0 L344.0 358.3 L345.5 357.6 L347.0 356.9 L348.5 356.2 L350.0 355.5 L351.5 354.8 L353.0 354.1 L354.5 353.4 L356.0 352.7 L357.5 352.0 L359.0 351.2 L360.5 350.5 L362.0 349.7 L363.5 348.8 L365.0 347.9 L366.5 347.0 L368.0 346.0 L369.5 344.9 L371.0 343.7 L372.5 342.4 L374.0 341.1 L375.5 339.7 L377.0 338.3 L378.5 336.9 L380.0 335.4 L381.5 333.9 L383.0 332.4 L384.5 330.8 L386.0 329.2 L387.5 327.7 L389.0 326.0 L390.5 324.4 L392.0 322.8 L393.5 321.1 L395.0 319.5 L396.5 317.9 L398.0 316.2 L399.5 314.6 L401.0 313.0 L402.5 311.4 L404.0 309.8 L405.5 308.1 L407.0 306.4 L408.5 304.7 L410.0 302.8 L411.5 300.9 L413.0 298.9 L414.5 296.9 L416.0 294.8 L417.5 292.6 L419.0 290.4 L420.5 288.2 L422.0 286.0 L423.5 283.7 L425.0 281.4 L426.5 279.1 L428.0 276.8 L429.5 274.4 L431.0 272.1 L432.5 269.7 L434.0 267.3 L435.5 264.9 L437.0 262.5 L438.5 260.1 L440.0 257.7 L441.5 255.2 L443.0 252.7 L444.5 250.2 L446.0 247.7 L447.5 245.1 L449.0 242.6 L450.5 240.1 L452.0 237.6 L453.5 235.1 L455.0 232.7 L456.5 230.2 L458.0 227.8 L459.5 225.3 L461.0 222.9 L462.5 220.5 L464.0 218.2 L465.5 215.9 L467.0 213.7 L468.5 211.6 L470.0 209.6 L471.5 207.6 L473.0 205.7 L474.5 203.7 L476.0 201.8 L477.5 199.8 L479.0 197.9 L480.5 196.2 L482.0 194.6 L483.5 193.2 L485.0 191.9 L486.5 190.7 L488.0 189.7 L489.5 188.7 L491.0 187.9 L492.5 187.3 L494.0 186.8 L495.5 186.4 L497.0 186.2 L498.5 186.0 L500.0 186.0 L501.5 186.0 L503.0 186.2 L504.5 186.4 L506.0 186.7 L507.5 187.2 L509.0 187.8 L510.5 188.5 L512.0 189.3 L513.5 190.3 L515.0 191.4 L516.5 192.6 L518.0 194.0 L519.5 195.5 L521.0 197.2 L522.5 198.9 L524.0 200.8 L525.5 202.7 L527.0 204.7 L528.5 206.7 L530.0 208.8 L531.5 210.9 L533.0 213.1 L534.5 215.3 L536.0 217.6 L537.5 219.9 L539.0 222.3 L540.5 224.7 L542.0 227.0 L543.5 229.4 L545.0 231.7 L546.5 234.1 L548.0 236.4 L549.5 238.8 L551.0 241.2 L552.5 243.6 L554.0 245.9 L555.5 248.2 L557.0 250.4 L558.5 252.6 L560.0 254.6 L561.5 256.6 L563.0 258.4 L564.5 260.1 L566.0 261.7 L567.5 263.2 L569.0 264.6 L570.5 266.0 L572.0 267.2 L573.5 268.3 L575.0 269.4 L576.5 270.4 L578.0 271.4 L579.5 272.3 L581.0 273.1 L582.5 274.0 L584.0 274.8 L585.5 275.6 L587.0 276.4 L588.5 277.1 L590.0 277.9 L591.5 278.6 L593.0 279.3 L594.5 280.0 L596.0 280.6 L597.5 281.2 L599.0 281.8 L600.5 282.4 L602.0 282.9 L603.5 283.4 L605.0 283.9 L606.5 284.3 L608.0 284.7 L609.5 285.1 L611.0 285.4 L612.5 285.7 L614.0 286.0 L615.5 286.3 L617.0 286.5 L618.5 286.7 L620.0 286.9 L621.5 287.0 L623.0 287.1 L624.5 287.2 L626.0 287.4 L627.5 287.4 L629.0 287.5 L630.5 287.6 L632.0 287.7 L633.5 287.7 L635.0 287.8 L636.5 287.8 L638.0 287.9 L639.5 287.9 L641.0 287.9 L642.5 287.8 L644.0 287.8 L645.5 287.7 L647.0 287.6 L648.5 287.6 L650.0 287.4 L651.5 287.3 L653.0 287.2 L654.5 287.0 L656.0 286.9 L657.5 286.7 L659.0 286.5 L660.5 286.3 L662.0 286.0 L663.5 285.8 L665.0 285.5 L666.5 285.2 L668.0 284.9 L669.5 284.6 L671.0 284.2 L672.5 283.9 L674.0 283.5 L675.5 283.2 L677.0 282.8 L678.5 282.4 L680.0 282.1 L681.5 281.7 L683.0 281.3 L684.5 280.9 L686.0 280.5 L687.5 280.0 L689.0 279.6 L690.5 279.2 L692.0 278.7 L693.5 278.3 L695.0 277.9 L696.5 277.4 L698.0 277.0 L699.5 276.7 L701.0 276.4 L702.5 276.1 L704.0 275.8 L705.5 275.7 L707.0 275.5 L708.0 275.5" stroke="#ffff00"/>
<path d="M80.0 370.3 L81.5 370.2 L83.0 370.2 L84.5 370.1 L86.0 370.0 L87.5 369.9 L89.0 369.8 L90.5 369.7 L92.0 369.7 L93.5 369.6 L95.0 369.5 L96.5 369.4 L98.0 369.3 L99.5 369.2 L101.0 369.2 L102.5 369.1 L104.0 369.0 L105.5 369.0 L107.0 368.9 L108.5 368.9 L110.0 368.8 L111.5 368.7 L113.0 368.7 L114.5 368.7 L116.0 368.6 L117.5 368.6 L119.0 368.5 L120.5 368.5 L122.0 368.5 L123.5 368.4 L125.0 368.4 L126.5 368.4 L128.0 368.4 L129.5 368.3 L131.0 368.3 L132.5 368.3 L134.0 368.3 L135.5 368.2 L137.0 368.2 L138.5 368.2 L140.0 368.2 L141.5 368.1 L143.0 368.1 L144.5 368.1 L146.0 368.1 L147.5 368.0 L149.0 368.0 L150.5 368.0 L152.0 368.0 L153.5 367.9 L155.0 367.9 L156.5 367.9 L158.0 367.8 L159.5 367.8 L161.0 367.8 L162.5 367.8 L164.0 367.7 L165.5 367.7 L167.0 367.7 L168.5 367.6 L170.0 367.6 L171.5 367.6 L173.0 367.5 L174.5 367.5 L176.0 367.5 L177.5 367.4 L179.0 367.4 L180.5 367.4 L182.0 367.4 L183.5 367.3 L185.0 367.3 L186.5 367.3 L188.0 367.3 L189.5 367.2 L191.0 367.2 L192.5 367.2 L194.0 367.1 L195.5 367.1 L197.0 367.1 L198.5 367.1 L200.0 367.0 L201.5 367.0 L203.0 367.0 L204.5 367.0 L206.0 366.9 L207.5 366.9 L209.0 366.9 L210.5 366.8 L212.0 366.8 L213.5 366.8 L215.0 366.8 L216.5 366.7 L218.0 366.7 L219.5 366.7 L221.0 366.6 L222.5 366.6 L224.0 366.6 L225.5 366.5 L227.0 366.5 L228.5 366.5 L230.0 366.4 L231.5 366.4 L233.0 366.3 L234.5 366.3 L236.0 366.3 L237.5 366.2 L239.0 366.2 L240.5 366.1 L242.0 366.1 L243.5 366.1 L245.0 366.0 L246.5 366.0 L248.0 365.9 L249.5 365.9 L251.0 365.8 L252.5 365.8 L254.0 365.7 L255.5 365.7 L257.0 365.6 L258.5 365.5 L260.0 365.5 L261.5 365.4 L263.0 365.3 L264.5 365.3 L266.0 365.2 L267.5 365.1 L269.0 365.0 L270.5 364.9 L272.0 364.8 L273.5 364.7 L275.0 364.6 L276.5 364.5 L278.0 364.3 L279.5 364.2 L281.0 364.1 L282.5 363.9 L284.0 363.8 L285.5 363.7 L287.0 363.5 L288.5 363.4 L290.0 363.2 L291.5 363.0 L293.0 362.9 L294.5 362.7 L296.0 362.5 L297.5 362.3 L299.0 362.2 L300.5 362.0 L302.0 361.8 L303.5 361.6 L305.0 361.3 L306.5 361.1 L308.0 360.9 L309.5 360.6 L311.0 360.4 L312.5 360.1 L314.0 359.9 L315.5 359.6 L317.0 359.3 L318.5 359.0 L320.0 358.7 L321.5 358.4 L323.0 358.1 L324.5 357.8 L326.0 357.4 L327.5 357.1 L329.0 356.7 L330.5 356.3 L332.0 355.9 L333.5 355.5 L335.0 355.0 L336.5 354.4 L338.0 353.9 L339.5 353.2 L341.0 352.5 L342.5 351.8 L344.0 351.1 L345.5 350.4 L347.0 349.6 L348.5 348.9 L350.0 348.2 L351.5 347.5 L353.0 346.8 L354.5 346.1 L356.0 345.5 L357.5 344.8 L359.0 344.1 L360.5 343.3 L362.0 342.5 L363.5 341.6 L365.0 340.7 L366.5 339.7 L368.0 338.6 L369.5 337.5 L371.0 336.3 L372.5 335.0 L374.0 333.7 L375.5 332.3 L377.0 330.9 L378.5 329.4 L380.0 327.9 L381.5 326.3 L383.0 324.7 L384.5 323.0 L386.0 321.3 L387.5 319.6 L389.0 317.8 L390.5 316.0 L392.0 314.2 L393.5 312.4 L395.0 310.6 L396.5 308.8 L398.0 307.0 L399.5 305.1 L401.0 303.2 L402.5 301.3 L404.0 299.3 L405.5 297.3 L407.0 295.2 L408.5 293.1 L410.0 290.9 L411.5 288.6 L413.0 286.3 L414.5 284.0 L416.0 281.6 L417.5 279.2 L419.0 276.8 L420.5 274.3 L422.0 271.9 L423.5 269.4 L425.0 266.8 L426.5 264.3 L428.0 261.7 L429.5 259.1 L431.0 256.4 L432.5 253.8 L434.0 251.1 L435.5 248.4 L437.0 245.8 L438.5 243.2 L440.0 240.7 L441.5 238.1 L443.0 235.6 L444.5 233.0 L446.0 230.3 L447.5 227.6 L449.0 224.7 L450.5 221.7 L452.0 218.5 L453.5 215.3 L455.0 211.9 L456.5 208.5 L458.0 205.0 L459.5 201.5 L461.0 198.0 L462.5 194.4 L464.0 190.9 L465.5 187.4 L467.0 184.0 L468.5 180.9 L470.0 178.0 L471.5 175.5 L473.0 173.0 L474.5 170.7 L476.0 168.4 L477.5 166.1 L479.0 164.0 L480.5 161.9 L482.0 159.9 L483.5 158.0 L485.0 156.1 L486.5 154.3 L488.0 152.6 L489.5 151.2 L491.0 150.1 L492.5 149.3 L494.0 148.6 L495.5 148.1 L497.0 147.6 L498.5 147.3 L500.0 147.2 L501.5 147.2 L503.0 147.5 L504.5 147.8 L506.0 148.3 L507.5 148.9 L509.0 149.6 L510.5 150.4 L512.0 151.4 L513.5 152.5 L515.0 153.8 L516.5 155.3 L518.0 156.8 L519.5 158.5 L521.0 160.3 L522.5 162.4 L524.0 164.5 L525.5 166.8 L527.0 169.1 L528.5 171.4 L530.0 173.8 L531.5 176.3 L533.0 178.9 L534.5 181.5 L536.0 184.2 L537.5 186.9 L539.0 189.6 L540.5 192.4 L542.0 195.2 L543.5 198.0 L545.0 200.8 L546.5 203.6 L548.0 206.3 L549.5 209.0 L551.0 211.6 L552.5 214.2 L554.0 216.7 L555.5 219.1 L557.0 221.5 L558.5 223.9 L560.0 226.2 L561.5 228.4 L563.0 230.6 L564.5 232.8 L566.0 234.9 L567.5 236.9 L569.0 238.8 L570.5 240.7 L572.0 242.5 L573.5 244.3 L575.0 245.9 L576.5 247.5 L578.0 248.9 L579.5 250.3 L581.0 251.6 L582.5 252.8 L584.0 253.9 L585.5 254.9 L587.0 255.8 L588.5 256.7 L590.0 257.6 L591.5 258.4 L593.0 259.1 L594.5 259.9 L596.0 260.6 L597.5 261.3 L599.0 262.0 L600.5 262.6 L602.0 263.3 L603.5 263.8 L605.0 264.4 L606.5 265.0 L608.0 265.5 L609.5 266.0 L611.0 266.5 L612.5 266.9 L614.0 267.3 L615.5 267.7 L617.0 268.1 L618.5 268.4 L620.0 268.7 L621.5 269.0 L623.0 269.3 L624.5 269.5 L626.0 269.6 L627.5 269.8 L629.0 269.9 L630.5 270.0 L632.0 270.1 L633.5 270.1 L635.0 270.2 L636.5 270.2 L638.0 270.2 L639.5 270.1 L641.0 270.1 L642.5 270.0 L644.0 269.9 L645.5 269.8 L647.0 269.7 L648.5 269.6 L650.0 269.4 L651.5 269.2 L653.0 269.0 L654.5 268.7 L656.0 268.4 L657.5 268.2 L659.0 267.9 L660.5 267.6 L662.0 267.3 L663.5 267.1 L665.0 266.8 L666.5 266.5 L668.0 266.2 L669.5 266.0 L671.0 265.7 L672.5 265.4 L674.0 265.1 L675.5 264.7 L677.0 264.4 L678.5 264.0 L680.0 263.7 L681.5 263.3 L683.0 262.9 L684.5 262.5 L686.0 262.1 L687.5 261.7 L689.0 261.3 L690.5 261.0 L692.0 260.6 L693.5 260.2 L695.0 259.9 L696.5 259.5 L698.0 259.2 L699.5 258.9 L701.0 258.6 L702.5 258.3 L704.0 258.1 L705.5 257.9 L707.0 257.7 L708.0 257.6" stroke="#808000"/>
<path d="M80.0 364.9 L81.5 364.9 L83.0 364.8 L84.5 364.7 L86.0 364.7 L87.5 364.6 L89.0 364.5 L90.5 364.5 L92.0 364.4 L93.5 364.3 L95.0 364.2 L96.5 364.2 L98.0 364.1 L99.5 364.0 L101.0 363.9 L102.5 363.9 L104.0 363.8 L105.5 363.7 L107.0 363.7 L108.5 363.6 L110.0 363.5 L111.5 363.5 L113.0 363.4 L114.5 363.4 L116.0 363.3 L117.5 363.2 L119.0 363.2 L120.5 363.1 L122.0 363.1 L123.5 363.0 L125.0 362.9 L126.5 362.9 L128.0 362.8 L129.5 362.8 L131.0 362.7 L132.5 362.7 L134.0 362.6 L135.5 362.5 L137.0 362.5 L138.5 362.4 L140.0 362.4 L141.5 362.3 L143.0 362.3 L144.5 362.3 L146.0 362.2 L147.5 362.2 L149.0 362.1 L150.5 362.1 L152.0 362.1 L153.5 362.0 L155.0 362.0 L156.5 362.0 L158.0 361.9 L159.5 361.9 L161.0 361.9 L162.5 361.8 L164.0 361.8 L165.5 361.8 L167.0 361.8 L168.5 361.7 L170.0 361.7 L171.5 361.7 L173.0 361.6 L174.5 361.6 L176.0 361.6 L177.5 361.5 L179.0 361.5 L180.5 361.5 L182.0 361.5 L183.5 361.4 L185.0 361.4 L186.5 361.4 L188.0 361.3 L189.5 361.3 L191.0 361.3 L192.5 361.3 L194.0 361.2 L195.5 361.2 L197.0 361.2 L198.5 361.2 L200.0 361.1 L201.5 361.1 L203.0 361.1 L204.5 361.0 L206.0 361.0 L207.5 361.0 L209.0 361.0 L210.5 360.9 L212.0 360.9 L213.5 360.9 L215.0 360.8 L216.5 360.8 L218.0 360.8 L219.5 360.7 L221.0 360.7 L222.5 360.7 L224.0 360.6 L225.5 360.6 L227.0 360.6 L228.5 360.5 L230.0 360.5 L231.5 360.5 L233.0 360.4 L234.5 360.4 L236.0 360.4 L237.5 360.3 L239.0 360.3 L240.5 360.2 L242.0 360.2 L243.5 360.1 L245.0 360.1 L246.5 360.1 L248.0 360.0 L249.5 360.0 L251.0 359.9 L252.5 359.9 L254.0 359.8 L255.5 359.8 L257.0 359.7 L258.5 359.6 L260.0 359.6 L261.5 359.5 L263.0 359.5 L264.5 359.4 L266.0 359.3 L267.5 359.2 L269.0 359.2 L270.5 359.1 L272.0 359.0 L273.5 358.9 L275.0 358.8 L276.5 358.7 L278.0 358.6 L279.5 358.5 L281.0 358.3 L282.5 358.2 L284.0 358.1 L285.5 358.0 L287.0 357.8 L288.5 357.7 L290.0 357.6 L291.5 357.4 L293.0 357.2 L294.5 357.1 L296.0 356.9 L297.5 356.7 L299.0 356.5 L300.5 356.3 L302.0 356.1 L303.5 355.9 L305.0 355.6 L306.5 355.4 L308.0 355.1 L309.5 354.8 L311.0 354.5 L312.5 354.3 L314.0 353.9 L315.5 353.6 L317.0 353.3 L318.5 353.0 L320.0 352.6 L321.5 352.3 L323.0 352.0 L324.5 351.6 L326.0 351.2 L327.5 350.9 L329.0 350.5 L330.5 350.1 L332.0 349.6 L333.5 349.2 L335.0 348.7 L336.5 348.1 L338.0 347.5 L339.5 346.8 L341.0 346.1 L342.5 345.4 L344.0 344.6 L345.5 343.8 L347.0 342.9 L348.5 342.2 L350.0 341.4 L351.5 340.6 L353.0 339.9 L354.5 339.2 L356.0 338.5 L357.5 337.8 L359.0 337.0 L360.5 336.2 L362.0 335.4 L363.5 334.5 L365.0 333.5 L366.5 332.4 L368.0 331.3 L369.5 330.0 L371.0 328.7 L372.5 327.3 L374.0 325.8 L375.5 324.3 L377.0 322.7 L378.5 321.2 L380.0 319.6 L381.5 318.0 L383.0 316.4 L384.5 314.7 L386.0 313.0 L387.5 311.2 L389.0 309.4 L390.5 307.5 L392.0 305.6 L393.5 303.6 L395.0 301.5 L396.5 299.4 L398.0 297.3 L399.5 295.2 L401.0 293.1 L402.5 291.0 L404.0 288.8 L405.5 286.7 L407.0 284.5 L408.5 282.3 L410.0 280.0 L411.5 277.7 L413.0 275.3 L414.5 272.7 L416.0 270.1 L417.5 267.3 L419.0 264.5 L420.5 261.6 L422.0 258.7 L423.5 255.7 L425.0 252.6 L426.5 249.5 L428.0 246.4 L429.5 243.3 L431.0 240.2 L432.5 237.0 L434.0 233.8 L435.5 230.6 L437.0 227.4 L438.5 224.1 L440.0 220.8 L441.5 217.3 L443.0 213.9 L444.5 210.3 L446.0 206.6 L447.5 202.9 L449.0 199.1 L450.5 195.2 L452.0 191.2 L453.5 187.3 L455.0 183.3 L456.5 179.3 L458.0 175.3 L459.5 171.4 L461.0 167.5 L462.5 163.7 L464.0 160.0 L465.5 156.3 L467.0 152.6 L468.5 149.0 L470.0 145.6 L471.5 142.4 L473.0 139.4 L474.5 136.3 L476.0 133.2 L477.5 130.0 L479.0 127.1 L480.5 124.5 L482.0 122.1 L483.5 119.9 L485.0 117.9 L486.5 116.1 L488.0 114.4 L489.5 112.8 L491.0 111.3 L492.5 110.1 L494.0 109.1 L495.5 108.2 L497.0 107.5 L498.5 107.0 L500.0 106.8 L501.5 106.8 L503.0 107.1 L504.5 107.4 L506.0 108.0 L507.5 108.6 L509.0 109.3 L510.5 110.1 L512.0 111.2 L513.5 112.5 L515.0 113.9 L516.5 115.5 L518.0 117.4 L519.5 119.4 L521.0 121.6 L522.5 123.8 L524.0 126.2 L525.5 128.6 L527.0 131.1 L528.5 133.8 L530.0 136.5 L531.5 139.4 L533.0 142.4 L534.5 145.4 L536.0 148.4 L537.5 151.4 L539.0 154.4 L540.5 157.3 L542.0 160.2 L543.5 163.2 L545.0 166.1 L546.5 169.0 L548.0 172.0 L549.5 174.9 L551.0 177.9 L552.5 180.9 L554.0 183.9 L555.5 186.9 L557.0 189.9 L558.5 192.9 L560.0 195.9 L561.5 198.8 L563.0 201.6 L564.5 204.4 L566.0 207.1 L567.5 209.7 L569.0 212.3 L570.5 214.7 L572.0 217.0 L573.5 219.2 L575.0 221.3 L576.5 223.2 L578.0 225.1 L579.5 226.8 L581.0 228.4 L582.5 229.9 L584.0 231.3 L585.5 232.6 L587.0 233.8 L588.5 234.9 L590.0 236.0 L591.5 237.0 L593.0 238.0 L594.5 238.9 L596.0 239.8 L597.5 240.7 L599.0 241.5 L600.5 242.3 L602.0 243.1 L603.5 243.9 L605.0 244.6 L606.5 245.4 L608.0 246.1 L609.5 246.7 L611.0 247.4 L612.5 248.0 L614.0 248.6 L615.5 249.1 L617.0 249.6 L618.5 250.1 L620.0 250.5 L621.5 250.9 L623.0 251.2 L624.5 251.4 L626.0 251.6 L627.5 251.8 L629.0 252.0 L630.5 252.1 L632.0 252.1 L633.5 252.2 L635.0 252.2 L636.5 252.3 L638.0 252.3 L639.5 252.3 L641.0 252.3 L642.5 252.3 L644.0 252.3 L645.5 252.3 L647.0 252.2 L648.5 252.2 L650.0 252.1 L651.5 252.1 L653.0 252.0 L654.5 251.8 L656.0 251.7 L657.5 251.5 L659.0 251.4 L660.5 251.2 L662.0 251.0 L663.5 250.8 L665.0 250.6 L666.5 250.3 L668.0 250.1 L669.5 249.8 L671.0 249.6 L672.5 249.3 L674.0 248.9 L675.5 248.6 L677.0 248.3 L678.5 247.9 L680.0 247.5 L681.5 247.2 L683.0 246.8 L684.5 246.4 L686.0 246.0 L687.5 245.6 L689.0 245.2 L690.5 244.8 L692.0 244.4 L693.5 244.1 L695.0 243.7 L696.5 243.4 L698.0 243.1 L699.5 242.8 L701.0 242.5 L702.5 242.2 L704.0 242.0 L705.5 241.8 L707.0 241.6 L708.0 241.5" stroke="#000088"/>
<path d="M80.0 359.6 L81.5 359.5 L83.0 359.5 L84.5 359.4 L86.0 359.3 L87.5 359.2 L89.0 359.1 L90.5 359.0 L92.0 358.9 L93.5 358.8 L95.0 358.8 L96.5 358.7 L98.0 358.6 L99.5 358.5 L101.0 358.4 L102.5 358.3 L104.0 358.2 L105.5 358.1 L107.0 358.1 L108.5 358.0 L110.0 357.9 L111.5 357.8 L113.0 357.7 L114.5 357.7 L116.0 357.6 L117.5 357.5 L119.0 357.4 L120.5 357.4 L122.0 357.3 L123.5 357.2 L125.0 357.1 L126.5 357.1 L128.0 357.0 L129.5 356.9 L131.0 356.8 L132.5 356.8 L134.0 356.7 L135.5 356.6 L137.0 356.6 L138.5 356.5 L140.0 356.5 L141.5 356.4 L143.0 356.3 L144.5 356.3 L146.0 356.2 L147.5 356.2 L149.0 356.1 L150.5 356.1 L152.0 356.1 L153.5 356.0 L155.0 356.0 L156.5 356.0 L158.0 355.9 L159.5 355.9 L161.0 355.9 L162.5 355.8 L164.0 355.8 L165.5 355.8 L167.0 355.8 L168.5 355.7 L170.0 355.7 L171.5 355.7 L173.0 355.7 L174.5 355.6 L176.0 355.6 L177.5 355.6 L179.0 355.6 L180.5 355.5 L182.0 355.5 L183.5 355.5 L185.0 355.5 L186.5 355.5 L188.0 355.4 L189.5 355.4 L191.0 355.4 L192.5 355.4 L194.0 355.4 L195.5 355.4 L197.0 355.3 L198.5 355.3 L200.0 355.3 L201.5 355.3 L203.0 355.3 L204.5 355.3 L206.0 355.3 L207.5 355.2 L209.0 355.2 L210.5 355.2 L212.0 355.2 L213.5 355.2 L215.0 355.2 L216.5 355.1 L218.0 355.1 L219.5 355.1 L221.0 355.1 L222.5 355.1 L224.0 355.1 L225.5 355.0 L227.0 355.0 L228.5 355.0 L230.0 355.0 L231.5 355.0 L233.0 354.9 L234.5 354.9 L236.0 354.9 L237.5 354.9 L239.0 354.8 L240.5 354.8 L242.0 354.8 L243.5 354.8 L245.0 354.7 L246.5 354.7 L248.0 354.7 L249.5 354.6 L251.0 354.6 L252.5 354.6 L254.0 354.5 L255.5 354.5 L257.0 354.5 L258.5 354.4 L260.0 354.4 L261.5 354.3 L263.0 354.3 L264.5 354.2 L266.0 354.1 L267.5 354.0 L269.0 354.0 L270.5 353.9 L272.0 353.8 L273.5 353.7 L275.0 353.6 L276.5 353.4 L278.0 353.3 L279.5 353.2 L281.0 353.0 L282.5 352.9 L284.0 352.8 L285.5 352.6 L287.0 352.4 L288.5 352.3 L290.0 352.1 L291.5 351.9 L293.0 351.8 L294.5 351.6 L296.0 351.4 L297.5 351.2 L299.0 350.9 L300.5 350.7 L302.0 350.5 L303.5 350.2 L305.0 349.9 L306.5 349.6 L308.0 349.3 L309.5 349.0 L311.0 348.7 L312.5 348.3 L314.0 348.0 L315.5 347.6 L317.0 347.2 L318.5 346.9 L320.0 346.5 L321.5 346.1 L323.0 345.7 L324.5 345.3 L326.0 344.9 L327.5 344.5 L329.0 344.1 L330.5 343.7 L332.0 343.3 L333.5 342.8 L335.0 342.3 L336.5 341.7 L338.0 341.1 L339.5 340.4 L341.0 339.7 L342.5 339.0 L344.0 338.2 L345.5 337.4 L347.0 336.6 L348.5 335.8 L350.0 335.1 L351.5 334.3 L353.0 333.6 L354.5 332.9 L356.0 332.2 L357.5 331.5 L359.0 330.7 L360.5 329.9 L362.0 329.1 L363.5 328.2 L365.0 327.2 L366.5 326.1 L368.0 324.9 L369.5 323.6 L371.0 322.2 L372.5 320.7 L374.0 319.1 L375.5 317.4 L377.0 315.7 L378.5 314.0 L380.0 312.3 L381.5 310.5 L383.0 308.8 L384.5 307.0 L386.0 305.3 L387.5 303.6 L389.0 301.8 L390.5 299.9 L392.0 298.0 L393.5 296.1 L395.0 294.0 L396.5 291.8 L398.0 289.5 L399.5 287.2 L401.0 284.8 L402.5 282.3 L404.0 279.9 L405.5 277.4 L407.0 275.0 L408.5 272.5 L410.0 270.0 L411.5 267.5 L413.0 265.0 L414.5 262.3 L416.0 259.6 L417.5 256.8 L419.0 253.9 L420.5 250.9 L422.0 247.9 L423.5 244.8 L425.0 241.6 L426.5 238.4 L428.0 235.2 L429.5 231.8 L431.0 228.4 L432.5 224.8 L434.0 221.1 L435.5 217.2 L437.0 213.3 L438.5 209.3 L440.0 205.1 L441.5 200.9 L443.0 196.7 L444.5 192.4 L446.0 188.0 L447.5 183.7 L449.0 179.2 L450.5 174.8 L452.0 170.3 L453.5 165.9 L455.0 161.3 L456.5 156.8 L458.0 152.3 L459.5 147.7 L461.0 143.1 L462.5 138.6 L464.0 134.2 L465.5 130.0 L467.0 125.8 L468.5 121.6 L470.0 117.4 L471.5 113.3 L473.0 109.3 L474.5 105.2 L476.0 101.2 L477.5 97.3 L479.0 93.7 L480.5 90.5 L482.0 87.5 L483.5 84.7 L485.0 82.1 L486.5 79.7 L488.0 77.6 L489.5 75.7 L491.0 74.1 L492.5 72.9 L494.0 71.9 L495.5 71.1 L497.0 70.6 L498.5 70.4 L500.0 70.3 L501.5 70.3 L503.0 70.5 L504.5 70.9 L506.0 71.5 L507.5 72.2 L509.0 73.1 L510.5 74.2 L512.0 75.5 L513.5 77.1 L515.0 78.8 L516.5 80.7 L518.0 82.9 L519.5 85.3 L521.0 87.7 L522.5 90.3 L524.0 92.9 L525.5 95.6 L527.0 98.3 L528.5 101.1 L530.0 104.0 L531.5 107.0 L533.0 110.0 L534.5 113.1 L536.0 116.2 L537.5 119.4 L539.0 122.5 L540.5 125.6 L542.0 128.7 L543.5 131.8 L545.0 134.8 L546.5 137.9 L548.0 140.9 L549.5 144.0 L551.0 147.0 L552.5 150.0 L554.0 153.1 L555.5 156.2 L557.0 159.3 L558.5 162.3 L560.0 165.4 L561.5 168.5 L563.0 171.5 L564.5 174.5 L566.0 177.3 L567.5 180.1 L569.0 182.7 L570.5 185.1 L572.0 187.5 L573.5 189.8 L575.0 191.9 L576.5 194.1 L578.0 196.2 L579.5 198.3 L581.0 200.3 L582.5 202.2 L584.0 204.1 L585.5 205.9 L587.0 207.5 L588.5 209.1 L590.0 210.6 L591.5 211.9 L593.0 213.3 L594.5 214.5 L596.0 215.8 L597.5 217.0 L599.0 218.3 L600.5 219.5 L602.0 220.7 L603.5 221.9 L605.0 223.1 L606.5 224.2 L608.0 225.3 L609.5 226.3 L611.0 227.2 L612.5 228.0 L614.0 228.8 L615.5 229.5 L617.0 230.1 L618.5 230.7 L620.0 231.2 L621.5 231.6 L623.0 232.0 L624.5 232.4 L626.0 232.7 L627.5 233.0 L629.0 233.3 L630.5 233.5 L632.0 233.8 L633.5 234.0 L635.0 234.2 L636.5 234.4 L638.0 234.5 L639.5 234.6 L641.0 234.7 L642.5 234.8 L644.0 234.9 L645.5 234.9 L647.0 234.9 L648.5 234.9 L650.0 234.9 L651.5 234.8 L653.0 234.7 L654.5 234.5 L656.0 234.4 L657.5 234.2 L659.0 234.0 L660.5 233.9 L662.0 233.7 L663.5 233.5 L665.0 233.3 L666.5 233.1 L668.0 232.9 L669.5 232.7 L671.0 232.5 L672.5 232.3 L674.0 232.1 L675.5 231.9 L677.0 231.7 L678.5 231.5 L680.0 231.3 L681.5 231.1 L683.0 230.9 L684.5 230.7 L686.0 230.5 L687.5 230.3 L689.0 230.2 L690.5 230.0 L692.0 229.9 L694.5 228.8 L699.3 219.5 L703.7 223.7 L708.0 225.5" stroke="#8b008b"/>
<path d="M80.0 353.3 L81.5 353.5 L83.0 353.5 L84.5 353.6 L86.0 353.6 L87.5 353.6 L89.0 353.3 L90.5 352.9 L92.0 352.4 L93.5 352.0 L95.0 351.8 L96.5 351.8 L98.0 352.0 L99.5 352.1 L101.0 352.2 L102.5 352.2 L104.0 352.0 L105.5 351.8 L107.0 351.4 L108.5 351.1 L110.0 350.9 L111.5 350.8 L113.0 350.7 L114.5 350.6 L116.0 350.5 L117.5 350.4 L119.0 350.2 L120.5 349.8 L122.0 349.4 L123.5 349.1 L125.0 348.9 L126.5 348.8 L128.0 349.0 L129.5 349.2 L131.0 349.4 L132.5 349.6 L134.0 349.6 L135.5 349.4 L137.0 349.1 L138.5 348.8 L140.0 348.6 L141.5 348.6 L143.0 348.6 L144.5 348.7 L146.0 348.7 L147.5 348.8 L149.0 348.8 L150.5 348.8 L152.0 348.7 L153.5 348.6 L155.0 348.4 L156.5 348.2 L158.0 348.0 L159.5 347.8 L161.0 347.7 L162.5 347.7 L164.0 347.6 L165.5 347.6 L167.0 348.6 L168.5 350.5 L170.0 351.5 L171.5 350.8 L173.0 349.4 L174.5 348.4 L176.0 348.1 L177.5 347.8 L179.0 347.6 L180.5 347.6 L182.0 348.0 L183.5 348.6 L185.0 349.2 L186.5 349.6 L188.0 349.5 L189.5 349.2 L191.0 348.8 L192.5 348.3 L194.0 347.9 L195.5 347.6 L197.0 347.7 L198.5 347.9 L200.0 348.2 L201.5 348.6 L203.0 348.9 L204.5 349.1 L206.0 349.0 L207.5 348.7 L209.0 348.3 L210.5 347.8 L212.0 347.4 L213.5 347.2 L215.0 347.2 L216.5 347.3 L218.0 347.5 L219.5 347.7 L221.0 347.9 L222.5 348.1 L224.0 348.2 L225.5 348.2 L227.0 348.2 L228.5 348.1 L230.0 348.0 L231.5 347.8 L233.0 347.7 L234.5 347.6 L236.0 347.5 L237.5 347.4 L239.0 347.3 L240.5 347.3 L242.0 347.4 L243.5 347.4 L245.0 347.6 L246.5 347.7 L248.0 347.7 L249.5 347.8 L251.0 347.8 L252.5 347.7 L254.0 347.6 L255.5 347.5 L257.0 347.4 L258.5 347.3 L260.0 347.3 L261.5 347.4 L263.0 347.5 L264.5 347.7 L266.0 347.9 L267.5 347.9 L269.0 347.6 L270.5 347.1 L272.0 346.6 L273.5 346.3 L275.0 346.4 L276.5 346.7 L278.0 347.1 L279.5 347.4 L281.0 347.6 L282.5 347.4 L284.0 346.9 L285.5 346.4 L287.0 345.8 L288.5 345.5 L290.0 345.3 L291.5 345.1 L293.0 344.9 L294.5 344.7 L296.0 344.6 L297.5 344.4 L299.0 344.2 L300.5 344.1 L302.0 343.9 L303.5 343.6 L305.0 343.4 L306.5 343.2 L308.0 343.0 L309.5 342.8 L311.0 342.5 L312.5 342.3 L314.0 342.0 L315.5 341.8 L317.0 341.5 L318.5 341.1 L320.0 340.7 L321.5 340.2 L323.0 339.8 L324.5 339.2 L326.0 338.6 L327.5 338.0 L329.0 337.4 L330.5 336.9 L332.0 336.3 L333.5 335.7 L335.0 335.2 L336.5 334.7 L338.0 334.2 L339.5 333.6 L341.0 333.0 L342.5 332.5 L344.0 331.8 L345.5 331.2 L347.0 330.5 L348.5 329.7 L350.0 328.9 L351.5 328.0 L353.0 327.1 L354.5 326.2 L356.0 325.2 L357.5 324.2 L359.0 323.2 L360.5 322.2 L362.0 321.2 L363.5 320.2 L365.0 319.1 L366.5 318.0 L368.0 316.9 L369.5 315.7 L371.0 314.5 L372.5 313.2 L374.0 311.9 L375.5 310.6 L377.0 309.3 L378.5 307.9 L380.0 306.5 L381.5 305.1 L383.0 303.6 L384.5 302.0 L386.0 300.3 L387.5 298.5 L389.0 296.7 L390.5 294.7 L392.0 292.7 L393.5 290.7 L395.0 288.6 L396.5 286.5 L398.0 284.3 L399.5 282.1 L401.0 279.8 L402.5 277.5 L404.0 275.1 L405.5 272.6 L407.0 270.1 L408.5 267.5 L410.0 264.9 L411.5 262.2 L413.0 259.5 L414.5 256.8 L416.0 254.0 L417.5 251.1 L419.0 248.2 L420.5 245.2 L422.0 242.1 L423.5 239.0 L425.0 235.9 L426.5 232.6 L428.0 229.2 L429.5 225.8 L431.0 222.2 L432.5 218.5 L434.0 214.6 L435.5 210.6 L437.0 206.4 L438.5 202.1 L440.0 197.7 L441.5 193.2 L443.0 188.7 L444.5 184.1 L446.0 179.5 L447.5 175.0 L449.0 170.5 L450.5 166.0 L452.0 161.4 L453.5 156.8 L455.0 152.2 L456.5 147.5 L458.0 142.7 L459.5 137.9 L461.0 133.0 L462.5 128.2 L464.0 123.5 L465.5 118.9 L467.0 114.4 L468.5 109.9 L470.0 105.4 L471.5 100.7 L473.0 96.2 L474.5 91.8 L476.0 87.7 L477.5 83.9 L479.0 80.3 L480.5 77.0 L482.0 73.9 L483.5 71.1 L485.0 68.5 L486.5 66.1 L488.0 64.0 L489.5 62.1 L491.0 60.4 L492.5 58.8 L494.0 57.5 L495.5 56.3 L497.0 55.3 L498.5 54.3 L500.0 53.4 L501.5 52.8 L503.0 52.5 L504.5 52.7 L506.0 53.1 L507.5 53.8 L509.0 54.6 L510.5 55.5 L512.0 56.6 L513.5 57.9 L515.0 59.5 L516.5 61.3 L518.0 63.3 L519.5 65.7 L521.0 68.2 L522.5 70.8 L524.0 73.4 L525.5 76.0 L527.0 78.7 L528.5 81.6 L530.0 84.7 L531.5 88.1 L533.0 91.7 L534.5 95.4 L536.0 99.1 L537.5 102.7 L539.0 106.2 L540.5 109.6 L542.0 112.9 L543.5 116.1 L545.0 119.2 L546.5 122.2 L548.0 125.2 L549.5 128.1 L551.0 130.9 L552.5 133.7 L554.0 136.6 L555.5 139.4 L557.0 142.2 L558.5 145.1 L560.0 147.9 L561.5 150.7 L563.0 153.5 L564.5 156.3 L566.0 159.1 L567.5 161.8 L569.0 164.4 L570.5 167.0 L572.0 169.5 L573.5 171.9 L575.0 174.2 L576.5 176.5 L578.0 178.7 L579.5 180.8 L581.0 182.9 L582.5 185.0 L584.0 187.1 L585.5 189.1 L587.0 191.0 L588.5 192.9 L590.0 194.7 L591.5 196.3 L593.0 197.9 L594.5 199.4 L596.0 200.8 L597.5 202.1 L599.0 203.3 L600.5 204.5 L602.0 205.7 L603.5 206.8 L605.0 207.9 L606.5 209.0 L608.0 210.0 L609.5 210.9 L611.0 211.8 L612.5 212.7 L614.0 213.5 L615.5 214.2 L617.0 214.9 L618.5 215.5 L620.0 216.1 L621.5 216.7 L623.0 217.2 L624.5 217.7 L626.0 218.2 L627.5 218.6 L629.0 219.0 L630.5 219.4 L632.0 219.7 L633.5 220.0 L635.0 220.3 L636.5 220.5 L638.0 220.7 L639.5 220.9 L641.0 221.0 L642.5 221.2 L644.0 221.3 L645.5 221.3 L647.0 221.4 L648.5 221.4 L650.0 221.4 L651.5 221.3 L653.0 221.3 L654.5 221.2 L656.0 221.2 L657.5 221.1 L659.0 220.9 L660.5 220.8 L662.0 220.7 L663.5 220.5 L665.0 220.4 L666.5 220.2 L668.0 219.9 L669.5 219.7 L671.0 219.4 L672.5 219.2 L674.0 218.8 L675.5 218.5 L677.0 218.1 L678.5 217.7 L680.0 217.3 L681.5 216.9 L683.0 216.5 L684.5 216.0 L686.0 215.6 L687.5 215.1 L689.0 214.6 L690.5 214.2 L692.0 213.8 L693.5 213.3 L695.0 212.9 L696.5 212.5 L698.0 212.2 L699.5 211.8 L701.0 211.5 L702.5 211.2 L704.0 211.0 L705.5 210.8 L707.0 210.6 L708.0 210.5" stroke="#8b0000"/>
</g>
<rect x="80" y="11" width="628" height="415" fill="none" stroke="#000" stroke-width="3"/>
<g stroke="#000" stroke-width="2.5"><line x1="80" y1="426.0" x2="88" y2="426.0"/><line x1="80" y1="343.0" x2="88" y2="343.0"/><line x1="80" y1="260.0" x2="88" y2="260.0"/><line x1="80" y1="177.0" x2="88" y2="177.0"/><line x1="80" y1="94.0" x2="88" y2="94.0"/><line x1="80" y1="11.0" x2="88" y2="11.0"/><line x1="80.0" y1="426" x2="80.0" y2="418"/><line x1="169.7" y1="426" x2="169.7" y2="418"/><line x1="259.4" y1="426" x2="259.4" y2="418"/><line x1="349.1" y1="426" x2="349.1" y2="418"/><line x1="438.9" y1="426" x2="438.9" y2="418"/><line x1="528.6" y1="426" x2="528.6" y2="418"/><line x1="618.3" y1="426" x2="618.3" y2="418"/><line x1="708.0" y1="426" x2="708.0" y2="418"/></g>
<g font-size="32"><text x="72.8" y="436.3" text-anchor="end">0</text><text x="72.8" y="353.3" text-anchor="end">5</text><text x="72.8" y="270.3" text-anchor="end">10</text><text x="72.8" y="187.3" text-anchor="end">15</text><text x="72.8" y="104.3" text-anchor="end">20</text><text x="72.8" y="21.3" text-anchor="end">25</text><text x="80.0" y="458.5" text-anchor="middle">0.5</text><text x="169.7" y="458.5" text-anchor="middle">0.6</text><text x="259.4" y="458.5" text-anchor="middle">0.7</text><text x="349.1" y="458.5" text-anchor="middle">0.8</text><text x="438.9" y="458.5" text-anchor="middle">0.9</text><text x="528.6" y="458.5" text-anchor="middle">1.0</text><text x="618.3" y="458.5" text-anchor="middle">1.1</text><text x="708.0" y="458.5" text-anchor="middle">1.2</text></g>
<text font-size="36" transform="translate(26.5,121.5) rotate(-90)" textLength="98" lengthAdjust="spacing">I (&#181;A)</text>
<text font-size="40" x="620.5" y="501" textLength="92" lengthAdjust="spacing">E (V)</text>
<rect x="121.8" y="23.5" width="282.2" height="206.0" fill="#fff"/>
<rect x="121.8" y="23.5" width="282.2" height="206.0" fill="none" stroke="#000" stroke-width="2"/>
<line x1="121.8" y1="213.7" x2="126.8" y2="213.7" stroke="#000" stroke-width="1.6"/>
<line x1="121.8" y1="166.1" x2="126.8" y2="166.1" stroke="#000" stroke-width="1.6"/>
<line x1="121.8" y1="118.6" x2="126.8" y2="118.6" stroke="#000" stroke-width="1.6"/>
<line x1="121.8" y1="71.0" x2="126.8" y2="71.0" stroke="#000" stroke-width="1.6"/>
<line x1="145.3" y1="229.5" x2="145.3" y2="224.5" stroke="#000" stroke-width="1.6"/>
<line x1="168.8" y1="229.5" x2="168.8" y2="224.5" stroke="#000" stroke-width="1.6"/>
<line x1="192.3" y1="229.5" x2="192.3" y2="224.5" stroke="#000" stroke-width="1.6"/>
<line x1="215.9" y1="229.5" x2="215.9" y2="224.5" stroke="#000" stroke-width="1.6"/>
<line x1="239.4" y1="229.5" x2="239.4" y2="224.5" stroke="#000" stroke-width="1.6"/>
<line x1="262.9" y1="229.5" x2="262.9" y2="224.5" stroke="#000" stroke-width="1.6"/>
<line x1="286.4" y1="229.5" x2="286.4" y2="224.5" stroke="#000" stroke-width="1.6"/>
<line x1="309.9" y1="229.5" x2="309.9" y2="224.5" stroke="#000" stroke-width="1.6"/>
<line x1="333.4" y1="229.5" x2="333.4" y2="224.5" stroke="#000" stroke-width="1.6"/>
<line x1="357.0" y1="229.5" x2="357.0" y2="224.5" stroke="#000" stroke-width="1.6"/>
<line x1="380.5" y1="229.5" x2="380.5" y2="224.5" stroke="#000" stroke-width="1.6"/>
<line x1="121.8" y1="217.1" x2="404.0" y2="31.7" stroke="#000" stroke-width="1.8"/>
<circle cx="123.9" cy="219.2" r="3.1" fill="none" stroke="#222" stroke-width="0.8"/>
<circle cx="123.9" cy="219.2" r="0.5" fill="#444"/>
<path d="M120.4 216.6 H127.4 M120.4 221.8 H127.4" stroke="#000" stroke-width="1.4" fill="none"/>
<circle cx="123.5" cy="214.3" r="3.1" fill="none" stroke="#222" stroke-width="0.8"/>
<circle cx="123.5" cy="214.3" r="0.5" fill="#444"/>
<path d="M120.0 211.7 H127.0 M120.0 216.9 H127.0" stroke="#000" stroke-width="1.4" fill="none"/>
<circle cx="130.6" cy="209.0" r="3.1" fill="none" stroke="#222" stroke-width="0.8"/>
<circle cx="130.6" cy="209.0" r="0.5" fill="#444"/>
<path d="M127.1 206.2 H134.1 M127.1 211.8 H134.1" stroke="#000" stroke-width="1.4" fill="none"/>
<circle cx="148.3" cy="196.5" r="3.1" fill="none" stroke="#222" stroke-width="0.8"/>
<circle cx="148.3" cy="196.5" r="0.5" fill="#444"/>
<path d="M144.8 194.2 H151.8 M144.8 198.8 H151.8" stroke="#000" stroke-width="1.4" fill="none"/>
<circle cx="180.2" cy="176.2" r="3.1" fill="none" stroke="#222" stroke-width="0.8"/>
<circle cx="180.2" cy="176.2" r="0.5" fill="#444"/>
<path d="M176.7 173.1 H183.7 M176.7 179.3 H183.7" stroke="#000" stroke-width="1.4" fill="none"/>
<circle cx="218.7" cy="152.1" r="3.1" fill="none" stroke="#222" stroke-width="0.8"/>
<circle cx="218.7" cy="152.1" r="0.5" fill="#444"/>
<path d="M215.2 148.6 H222.2 M215.2 155.6 H222.2" stroke="#000" stroke-width="1.4" fill="none"/>
<path d="M218.7 148.6 V149.0 M218.7 155.2 V155.6" stroke="#000" stroke-width="0.9" fill="none"/>
<circle cx="255.9" cy="129.2" r="3.1" fill="none" stroke="#222" stroke-width="0.8"/>
<circle cx="255.9" cy="129.2" r="0.5" fill="#444"/>
<path d="M252.4 125.6 H259.4 M252.4 132.8 H259.4" stroke="#000" stroke-width="1.4" fill="none"/>
<path d="M255.9 125.6 V126.1 M255.9 132.3 V132.8" stroke="#000" stroke-width="0.9" fill="none"/>
<circle cx="298.2" cy="102.9" r="3.1" fill="none" stroke="#222" stroke-width="0.8"/>
<circle cx="298.2" cy="102.9" r="0.5" fill="#444"/>
<path d="M294.7 98.5 H301.7 M294.7 107.3 H301.7" stroke="#000" stroke-width="1.4" fill="none"/>
<path d="M298.2 98.5 V99.8 M298.2 106.0 V107.3" stroke="#000" stroke-width="0.9" fill="none"/>
<circle cx="338.5" cy="75.2" r="3.1" fill="none" stroke="#222" stroke-width="0.8"/>
<circle cx="338.5" cy="75.2" r="0.5" fill="#444"/>
<path d="M335.0 70.2 H342.0 M335.0 80.2 H342.0" stroke="#000" stroke-width="1.4" fill="none"/>
<path d="M338.5 70.2 V72.1 M338.5 78.3 V80.2" stroke="#000" stroke-width="0.9" fill="none"/>
<circle cx="378.4" cy="49.9" r="3.1" fill="none" stroke="#222" stroke-width="0.8"/>
<circle cx="378.4" cy="49.9" r="0.5" fill="#444"/>
<path d="M374.9 44.6 H381.9 M374.9 55.1 H381.9" stroke="#000" stroke-width="1.4" fill="none"/>
<path d="M378.4 44.6 V46.8 M378.4 53.0 V55.1" stroke="#000" stroke-width="0.9" fill="none"/>
<circle cx="390.6" cy="43.7" r="3.1" fill="none" stroke="#222" stroke-width="0.8"/>
<circle cx="390.6" cy="43.7" r="0.5" fill="#444"/>
<path d="M387.1 38.5 H394.1 M387.1 48.9 H394.1" stroke="#000" stroke-width="1.4" fill="none"/>
<path d="M390.6 38.5 V40.6 M390.6 46.8 V48.9" stroke="#000" stroke-width="0.9" fill="none"/>
<g font-size="13.5"><text transform="translate(117.5,218.3) scale(1,1.13)" text-anchor="end">3</text><text transform="translate(117.5,170.7) scale(1,1.13)" text-anchor="end">6</text><text transform="translate(117.5,123.2) scale(1,1.13)" text-anchor="end">9</text><text transform="translate(117.5,75.6) scale(1,1.13)" text-anchor="end">12</text><text transform="translate(117.5,28.1) scale(1,1.13)" text-anchor="end">15</text><text transform="translate(121.8,245.6) scale(1,1.13)" text-anchor="middle">0</text><text transform="translate(145.3,245.6) scale(1,1.13)" text-anchor="middle">5</text><text transform="translate(168.8,245.6) scale(1,1.13)" text-anchor="middle">10</text><text transform="translate(192.3,245.6) scale(1,1.13)" text-anchor="middle">15</text><text transform="translate(215.9,245.6) scale(1,1.13)" text-anchor="middle">20</text><text transform="translate(239.4,245.6) scale(1,1.13)" text-anchor="middle">25</text><text transform="translate(262.9,245.6) scale(1,1.13)" text-anchor="middle">30</text><text transform="translate(286.4,245.6) scale(1,1.13)" text-anchor="middle">35</text><text transform="translate(309.9,245.6) scale(1,1.13)" text-anchor="middle">40</text><text transform="translate(333.4,245.6) scale(1,1.13)" text-anchor="middle">45</text><text transform="translate(357.0,245.6) scale(1,1.13)" text-anchor="middle">50</text><text transform="translate(380.5,245.6) scale(1,1.13)" text-anchor="middle">55</text><text transform="translate(404.0,245.6) scale(1,1.13)" text-anchor="middle">60</text></g>
<text font-size="18.3" x="288.8" y="268">THZ <tspan style="font-weight:normal">[</tspan>&#181;g mL<tspan font-size="12" dy="-11.3" dx="0">-1</tspan><tspan dy="11.3" dx="-1.6" style="font-weight:normal">]</tspan></text>
<text font-size="21" transform="translate(102,74) rotate(-90)">I (&#181;A)</text>
<line x1="583.6" y1="130" x2="583.8" y2="76" stroke="#000" stroke-width="2.6"/>
<path d="M579.8 79 L584 66.5 L588.4 79 Z" fill="#000"/>
<text font-size="21.5" x="571" y="58.6">57.2 &#181;g mL<tspan font-size="13" dy="-11">-1</tspan></text>
<text font-size="21.5" x="574" y="146.8">0.24 &#181;g mL<tspan font-size="13" dy="-11">-1</tspan></text>
</svg>
</body></html>
